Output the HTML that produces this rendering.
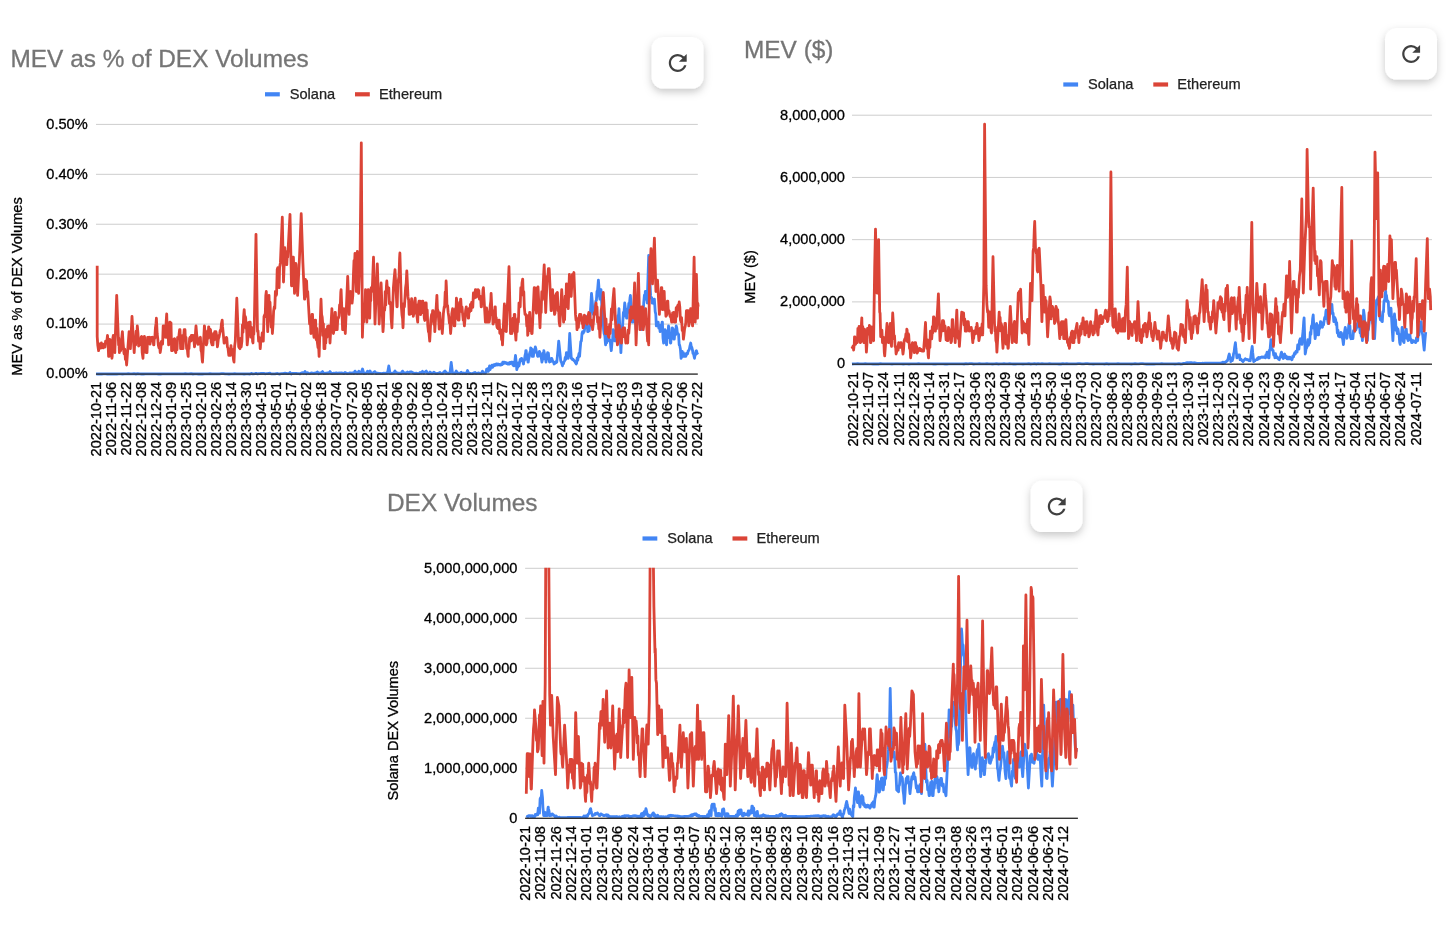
<!DOCTYPE html>
<html lang="en"><head><meta charset="utf-8"><title>MEV charts</title>
<style>
html,body{margin:0;padding:0;background:#fff;}
body{width:1454px;height:944px;overflow:hidden;font-family:"Liberation Sans",sans-serif;}
svg text{font-family:"Liberation Sans",sans-serif;}
svg{display:block;}
</style></head><body>
<svg width="1454" height="944" viewBox="0 0 1454 944">
<defs><filter id="sh" x="-40%" y="-40%" width="180%" height="190%"><feDropShadow dx="0" dy="3.5" stdDeviation="4.5" flood-color="#000" flood-opacity="0.2"/><feDropShadow dx="0" dy="0" stdDeviation="0.6" flood-color="#000" flood-opacity="0.12"/></filter></defs>
<clipPath id="cp1"><rect x="94.0" y="123.8" width="605.8" height="252.6"/></clipPath>
<text x="10.5" y="67.0" font-size="24.40" fill="#757575" stroke="#757575" stroke-width="0.3" >MEV as % of DEX Volumes</text>
<rect x="265.0" y="92.2" width="14.8" height="4.2" fill="#4285F4"/>
<text x="289.7" y="99.2" font-size="14.6" fill="#222" stroke="#222" stroke-width="0.25" >Solana</text>
<rect x="355.0" y="92.2" width="14.8" height="4.2" fill="#DB4437"/>
<text x="379.0" y="99.2" font-size="14.6" fill="#222" stroke="#222" stroke-width="0.25" >Ethereum</text>
<rect x="96.0" y="323.58" width="601.8" height="1" fill="#cecece"/>
<rect x="96.0" y="273.66" width="601.8" height="1" fill="#cecece"/>
<rect x="96.0" y="223.74" width="601.8" height="1" fill="#cecece"/>
<rect x="96.0" y="173.82" width="601.8" height="1" fill="#cecece"/>
<rect x="96.0" y="123.90" width="601.8" height="1" fill="#cecece"/>
<text x="87.7" y="378.3" font-size="14.6" fill="#000" stroke="#000" stroke-width="0.3" text-anchor="end" >0.00%</text>
<text x="87.7" y="328.4" font-size="14.6" fill="#000" stroke="#000" stroke-width="0.3" text-anchor="end" >0.10%</text>
<text x="87.7" y="278.5" font-size="14.6" fill="#000" stroke="#000" stroke-width="0.3" text-anchor="end" >0.20%</text>
<text x="87.7" y="228.5" font-size="14.6" fill="#000" stroke="#000" stroke-width="0.3" text-anchor="end" >0.30%</text>
<text x="87.7" y="178.6" font-size="14.6" fill="#000" stroke="#000" stroke-width="0.3" text-anchor="end" >0.40%</text>
<text x="87.7" y="128.7" font-size="14.6" fill="#000" stroke="#000" stroke-width="0.3" text-anchor="end" >0.50%</text>
<text transform="translate(21.8,286.5) rotate(-90)" font-size="14.6" fill="#000" stroke="#000" stroke-width="0.3" text-anchor="middle" >MEV as % of DEX Volumes</text>
<polyline points="96.0,373.9 97.9,374.0 99.8,373.8 101.7,374.0 103.6,373.8 105.5,373.9 107.4,374.0 109.3,373.8 111.2,374.0 113.1,373.9 115.0,374.0 116.9,374.0 118.8,373.9 120.7,373.8 122.6,374.0 124.5,373.9 126.4,373.8 128.3,373.7 130.2,373.8 132.1,373.9 134.0,373.7 135.9,374.0 137.8,373.7 139.7,373.9 141.6,374.0 143.5,374.0 145.4,373.9 147.3,373.8 149.2,373.9 151.1,373.8 153.0,373.8 154.9,373.9 156.8,373.8 158.7,374.0 160.6,374.0 162.5,373.9 164.4,373.8 166.3,373.9 168.2,373.9 170.1,373.8 172.0,373.9 173.9,373.9 175.8,373.8 177.7,373.8 179.6,373.9 181.5,373.8 183.4,373.8 185.3,373.7 187.2,373.8 189.1,373.9 191.0,373.7 192.9,374.0 194.8,373.9 196.7,373.8 198.6,374.0 200.5,373.9 202.4,374.0 204.3,373.8 206.2,373.8 208.1,373.8 210.0,373.7 211.9,373.9 213.8,373.8 215.7,373.8 217.6,373.8 219.5,373.9 221.4,373.7 223.3,373.7 225.2,373.9 227.1,373.8 229.0,374.0 230.9,373.8 232.8,373.8 234.7,373.7 236.6,373.8 238.5,373.9 240.4,373.9 242.3,373.8 244.2,374.0 246.1,373.9 248.0,373.9 249.9,374.0 250.0,374.0 251.2,373.4 252.5,373.9 253.8,373.8 255.0,373.7 256.2,373.3 257.5,373.9 258.8,373.6 260.0,373.6 261.2,373.3 262.5,373.3 263.8,373.3 265.0,373.8 266.2,373.7 267.5,373.7 268.8,373.3 270.0,373.2 271.2,373.9 272.5,373.9 273.8,373.8 275.0,373.8 276.2,373.6 277.5,373.5 278.8,373.8 280.0,374.0 281.2,373.7 282.5,373.7 283.8,373.5 285.0,373.2 286.2,373.4 287.5,373.6 288.8,373.5 290.0,372.5 291.2,374.0 292.5,373.3 293.8,373.4 295.0,373.3 296.2,373.4 297.5,373.7 298.8,373.7 300.0,373.9 301.2,373.0 302.5,372.7 303.8,373.3 305.0,371.5 306.2,373.7 307.5,372.6 308.8,373.4 310.0,373.6 311.2,372.9 312.5,373.1 313.8,373.4 315.0,373.0 316.2,372.9 317.5,372.0 318.8,373.7 320.0,372.9 321.2,373.1 322.5,371.6 323.8,373.3 325.0,373.4 326.2,373.1 327.5,373.0 328.8,373.0 330.0,371.5 331.2,373.3 332.5,373.5 333.8,373.1 335.0,373.3 336.2,372.9 337.5,373.4 338.8,373.0 340.0,373.2 341.2,373.0 342.5,373.2 343.8,373.6 345.0,372.5 346.2,373.1 347.5,373.6 348.8,373.4 350.0,372.9 351.2,373.4 352.5,372.8 353.8,373.6 355.0,371.1 356.2,372.9 357.5,373.4 358.8,371.3 360.0,373.2 361.2,373.0 362.5,369.0 363.8,373.5 365.0,373.5 366.2,373.2 367.5,371.2 368.8,373.4 370.0,371.0 371.2,373.4 372.5,373.3 373.8,372.2 375.0,371.6 376.2,373.6 377.5,373.1 378.8,373.4 380.0,373.3 381.2,373.6 382.5,373.5 383.8,373.1 385.0,373.3 386.2,373.0 387.5,373.2 388.8,366.0 390.0,373.3 391.2,373.3 392.5,373.1 393.8,372.9 395.0,371.0 396.2,372.7 397.5,372.8 398.8,373.6 400.0,373.1 401.2,373.6 402.5,371.1 403.8,372.9 405.0,372.9 406.2,373.3 407.5,372.0 408.8,373.3 410.0,372.0 411.2,371.8 412.5,372.6 413.8,373.2 415.0,373.6 416.2,373.1 417.5,373.6 418.8,373.7 420.0,372.5 421.2,373.0 422.5,371.3 423.8,373.2 425.0,372.0 426.2,371.1 427.5,373.2 428.8,373.6 430.0,372.0 431.2,373.3 432.5,373.3 433.8,372.2 435.0,373.1 436.2,373.7 437.5,373.5 438.8,373.1 440.0,372.5 441.2,373.7 442.5,373.7 443.8,372.1 445.0,371.0 446.2,373.4 447.5,373.0 448.8,373.3 450.0,372.9 451.2,362.5 452.5,373.2 453.8,373.1 455.0,373.6 456.2,371.0 457.5,373.0 458.8,373.2 460.0,373.5 461.2,372.3 462.5,373.5 463.8,372.9 465.0,373.5 466.2,373.5 467.5,370.5 468.8,373.3 470.0,373.5 471.2,373.7 472.5,373.6 473.8,372.9 475.0,372.5 476.2,373.3 477.5,373.2 478.8,373.0 480.0,373.4 481.2,373.6 482.5,371.2 483.8,373.0 485.0,373.1 485.4,372.6 486.0,372.6 486.6,369.2 487.2,371.1 487.8,368.8 488.4,371.3 489.2,367.8 489.6,365.9 490.2,369.5 490.8,366.6 491.4,367.3 492.0,365.2 492.6,367.3 493.0,365.9 493.8,364.8 494.4,365.7 495.0,364.4 495.6,365.3 496.2,364.0 496.8,364.0 497.4,364.9 498.0,364.0 498.6,364.7 499.2,364.4 499.8,365.0 500.4,364.4 500.6,365.0 501.0,365.0 501.6,363.6 502.2,364.5 502.8,362.2 503.4,363.7 504.0,362.1 504.4,362.1 505.2,363.1 505.8,362.5 506.4,363.5 507.0,363.0 507.6,364.0 508.2,364.0 508.8,362.9 509.4,364.0 510.0,362.4 510.6,363.6 511.2,362.1 511.8,362.9 512.1,362.1 512.4,362.1 513.0,365.3 513.6,363.7 514.0,365.9 514.8,361.4 515.5,355.4 516.0,360.4 516.6,366.9 516.8,369.7 517.2,367.4 517.8,367.2 518.4,363.0 519.0,365.9 519.7,362.1 520.2,359.5 520.8,360.5 521.4,358.3 521.6,358.3 522.0,360.5 522.6,359.8 523.2,363.0 523.5,364.0 523.8,361.0 524.4,360.5 525.0,355.5 525.6,353.1 525.8,350.7 526.2,350.7 526.8,359.1 527.4,354.7 528.0,362.1 528.3,362.1 528.6,359.1 529.2,357.0 529.8,352.4 530.4,353.4 530.7,347.8 531.6,348.9 532.2,356.4 532.8,353.3 533.0,356.4 533.4,356.4 534.0,349.6 534.6,352.5 535.3,346.8 535.8,348.5 536.4,352.1 537.0,352.6 537.6,356.3 537.8,356.4 538.2,355.0 538.8,355.8 539.4,351.4 540.0,352.6 540.6,356.4 541.2,357.0 541.9,362.1 542.4,360.2 543.0,353.2 543.6,355.2 543.8,350.7 544.2,352.3 544.8,358.7 545.4,356.8 545.7,360.2 546.0,362.1 546.6,354.7 547.2,356.1 547.6,352.6 548.4,353.2 549.0,359.5 549.5,362.1 550.2,360.0 550.8,361.5 551.4,358.3 551.8,358.3 552.6,360.9 553.2,361.6 553.8,363.1 554.1,364.0 554.4,362.5 555.0,363.4 555.6,362.0 556.2,362.5 556.8,362.1 557.4,355.8 558.0,349.9 558.7,341.1 559.2,345.7 559.8,352.0 560.4,357.7 560.6,360.2 561.0,361.6 561.6,362.6 562.2,364.9 562.5,365.9 562.8,363.8 563.4,363.8 564.0,361.6 564.6,360.8 564.8,360.2 565.2,357.5 565.8,359.5 566.4,352.6 566.7,352.6 567.0,354.7 567.6,354.4 568.2,358.3 568.8,352.1 569.4,340.0 569.7,333.5 570.6,347.6 571.3,358.3 571.8,358.3 572.4,359.5 573.0,359.2 573.6,360.2 574.2,361.0 574.8,361.2 575.4,362.7 576.0,362.9 576.2,364.0 576.6,363.1 577.2,358.0 577.8,360.2 578.1,358.3 579.0,353.4 579.6,356.5 580.0,350.7 580.8,341.6 581.4,341.0 582.0,333.5 582.6,331.6 583.2,333.2 583.8,331.6 584.2,331.6 585.0,326.8 585.8,316.3 586.2,319.4 586.8,327.6 587.4,326.8 587.7,331.6 588.0,331.6 588.6,326.4 589.2,330.8 589.6,325.9 591.5,293.4 592.2,300.7 592.8,309.1 593.4,314.4 594.0,308.7 594.6,312.0 595.3,306.8 595.8,301.3 596.4,300.3 597.0,291.4 597.2,291.5 597.6,290.2 598.4,280.1 598.8,285.1 599.4,295.9 599.9,299.2 600.6,289.6 601.0,289.6 601.8,306.1 602.6,314.4 603.0,314.6 603.6,329.4 604.1,333.5 604.8,335.4 605.4,343.1 605.6,344.9 606.0,339.2 606.6,342.9 607.2,333.5 607.5,333.5 607.8,338.1 608.4,333.5 609.0,340.8 609.4,339.2 610.2,340.3 610.8,347.2 611.3,350.7 612.0,342.5 612.6,340.1 613.2,329.7 613.8,330.7 614.4,340.4 615.1,341.1 615.6,334.5 616.2,333.0 616.8,322.7 617.0,322.1 617.4,322.4 618.0,315.7 618.6,314.9 619.0,308.7 620.9,352.6 621.6,338.3 622.2,331.9 622.8,322.1 623.4,312.4 624.0,312.6 624.7,303.0 625.2,306.8 625.8,316.4 626.4,312.4 626.6,318.2 627.0,318.2 627.6,309.0 628.2,312.4 628.5,306.8 628.8,303.3 629.4,304.7 630.0,298.0 630.4,295.4 631.2,308.3 631.8,312.3 632.3,322.1 633.0,322.1 633.6,315.1 634.2,314.4 634.8,321.0 635.4,320.5 636.1,329.7 636.6,326.2 637.2,318.7 637.8,321.4 638.0,314.4 638.4,314.4 639.0,320.0 639.6,316.6 639.9,322.1 640.2,325.0 640.8,322.6 641.4,327.7 641.8,329.7 642.6,315.8 643.2,313.1 643.7,303.0 644.4,295.2 645.0,296.9 645.3,291.5 645.6,291.5 646.2,299.2 646.8,296.9 647.2,303.0 648.7,255.3 650.6,295.4 651.0,298.0 651.6,297.4 652.2,303.0 652.5,303.0 652.8,299.4 653.4,303.3 654.0,299.2 654.4,299.2 655.2,311.7 655.8,314.2 656.3,325.9 657.0,325.9 657.6,322.4 658.2,322.1 658.8,328.0 659.4,325.2 660.1,331.6 660.6,331.3 661.2,324.8 661.8,325.5 662.1,322.1 662.4,322.1 663.0,338.2 663.6,343.0 664.2,333.2 664.8,336.7 665.1,329.7 665.4,330.4 666.0,342.0 666.6,344.9 667.2,335.5 667.8,337.7 668.5,325.9 669.0,327.8 669.6,337.9 670.2,337.2 670.4,343.0 670.8,343.0 671.4,333.1 672.0,334.4 672.3,327.8 673.2,329.3 673.8,339.2 674.3,339.2 675.0,330.1 675.6,334.7 676.2,325.9 676.8,327.8 677.4,333.3 678.1,333.5 678.6,334.6 679.2,344.9 679.6,344.9 680.4,349.0 681.1,358.3 681.6,357.0 682.2,351.4 682.8,356.4 683.0,352.6 683.4,352.6 684.0,356.4 684.6,354.6 684.9,356.4 685.8,356.4 686.4,353.4 686.8,354.5 687.6,353.8 688.2,350.8 688.7,350.7 689.4,348.9 690.0,345.8 690.7,343.0 691.2,346.5 691.8,347.4 692.6,350.7 693.0,353.5 693.6,353.9 694.2,357.0 694.5,358.3 694.8,356.3 695.4,354.8 696.0,351.1 696.4,350.7 697.2,353.6 697.9,354.5" fill="none" stroke="#4285F4" stroke-width="2.8" stroke-linejoin="round" stroke-linecap="butt" clip-path="url(#cp1)"/>
<polyline points="97.2,265.8 97.2,336.4 97.8,345.4 98.6,350.7 99.0,343.9 99.6,348.5 100.2,344.0 100.5,346.8 100.8,347.8 101.4,343.0 102.0,347.8 102.6,344.3 103.3,347.8 103.8,346.8 104.4,343.8 105.0,347.2 105.6,341.1 106.2,341.1 106.8,341.6 107.5,335.4 108.0,341.1 108.6,356.4 109.1,356.4 109.8,339.4 110.6,341.1 111.0,352.6 111.6,343.8 111.9,358.3 112.2,356.4 112.8,338.4 113.3,335.4 114.0,348.4 114.8,352.6 116.7,295.4 118.6,344.9 118.8,338.1 119.4,352.6 120.0,342.8 120.5,350.7 121.2,348.6 121.8,337.3 122.4,331.6 123.0,341.8 123.6,348.5 123.9,352.6 124.2,354.0 124.8,349.2 125.4,359.5 126.0,356.7 126.6,365.0 129.1,331.6 129.6,344.3 130.4,348.7 132.0,316.3 134.2,352.6 135.0,338.2 135.6,344.9 136.2,331.1 136.8,339.3 137.3,325.9 138.0,333.4 138.6,346.0 139.2,344.9 139.8,340.1 140.4,344.7 141.1,337.3 141.6,336.4 142.2,352.6 143.0,358.3 143.4,346.3 144.0,348.4 144.4,336.4 144.6,337.3 145.2,352.2 145.8,343.7 146.3,352.6 147.0,352.6 147.6,337.3 148.2,337.3 148.8,339.5 149.4,337.3 150.0,344.2 150.6,341.1 151.2,337.3 151.8,340.2 152.6,337.3 153.0,338.6 153.6,344.9 153.9,344.9 154.2,338.9 154.8,338.3 155.4,328.1 156.0,323.7 156.4,318.2 156.6,322.2 157.2,334.0 157.8,339.0 158.3,344.9 159.0,348.0 159.6,343.6 160.2,352.6 160.8,348.6 161.4,341.3 162.1,341.1 162.6,344.0 163.2,325.9 164.0,325.9 164.4,336.9 165.0,330.9 165.3,337.3 165.6,335.8 166.2,321.2 166.7,313.8 167.4,337.7 168.0,328.1 168.6,344.9 169.2,341.6 169.8,322.1 170.1,322.1 170.4,334.1 171.0,322.9 171.6,350.7 172.4,350.7 172.8,342.7 173.4,349.5 173.9,339.2 174.6,338.7 175.2,350.7 175.8,352.6 176.4,341.1 177.0,349.8 177.6,337.3 178.1,337.3 178.8,337.0 179.6,329.7 180.0,329.7 180.6,348.7 181.2,343.5 181.5,348.7 181.8,347.5 182.4,335.7 183.0,348.7 183.4,341.1 184.2,329.7 185.0,329.7 185.4,340.1 186.0,337.3 186.6,348.7 186.9,348.7 187.2,346.8 187.8,354.3 188.2,356.4 188.4,347.2 189.0,348.7 189.6,338.4 190.1,337.3 190.8,341.2 191.4,335.4 192.0,339.8 192.6,335.4 193.0,335.4 193.2,340.4 193.8,338.7 194.5,346.8 195.0,342.6 195.6,331.1 196.0,325.9 196.8,335.6 197.4,337.9 197.7,343.0 198.0,344.4 198.6,339.2 199.2,343.9 199.7,339.2 200.4,337.2 201.0,350.4 201.6,352.3 202.2,360.0 202.5,362.1 204.4,325.9 204.6,326.8 205.2,342.1 205.8,335.9 206.3,344.9 207.0,343.0 207.6,330.8 208.2,338.3 208.6,326.8 208.8,326.8 209.4,331.7 210.0,329.0 210.5,329.7 211.2,341.8 212.1,344.9 212.4,339.9 213.0,344.9 213.6,333.3 214.0,337.3 214.2,339.9 214.8,331.6 215.4,338.9 215.9,331.6 216.6,335.2 217.4,346.8 217.8,344.2 218.4,338.6 219.0,337.2 219.7,333.5 220.2,330.4 220.8,331.2 221.4,324.0 222.2,320.1 222.6,326.9 223.2,333.2 224.1,343.0 224.4,343.0 225.0,339.0 225.6,341.5 226.4,337.3 226.8,338.1 227.4,346.9 228.0,348.1 228.8,355.4 229.2,355.4 229.8,351.7 230.4,355.4 231.0,345.7 231.6,353.4 232.1,350.7 232.8,349.6 233.4,358.9 234.0,362.1 234.6,346.4 235.3,341.1 236.8,298.2 238.7,346.8 239.4,347.9 240.0,348.7 240.6,338.4 241.2,346.8 241.9,341.1 242.4,325.0 243.0,332.3 243.6,317.2 244.2,309.7 244.8,319.6 245.4,316.7 245.7,318.2 246.0,328.4 246.6,328.3 247.2,344.9 247.8,338.9 248.4,322.6 249.0,333.1 249.5,322.1 250.2,322.1 250.8,337.2 251.4,335.4 252.0,327.7 252.6,341.4 253.0,343.0 253.2,334.4 253.8,334.4 254.3,324.0 256.0,234.3 257.5,331.6 258.0,330.8 258.6,341.1 259.1,337.3 259.8,340.8 260.2,348.7 260.4,347.2 261.0,338.0 261.6,341.1 261.9,337.3 262.2,333.0 262.8,341.1 263.3,341.1 264.0,316.4 264.8,314.4 265.2,316.7 265.8,295.4 266.3,291.5 267.7,331.6 269.0,295.4 269.4,307.8 270.0,302.1 270.5,314.4 271.2,327.2 271.8,318.9 272.4,333.5 273.0,324.7 273.6,311.2 274.3,306.8 274.8,308.4 275.4,291.3 276.2,295.4 276.6,294.0 277.2,269.4 277.8,267.7 278.4,284.4 279.1,287.7 279.6,267.2 280.4,262.9 282.3,217.2 283.5,282.0 284.8,247.7 285.0,260.5 285.6,251.9 286.2,261.0 286.8,264.7 287.4,251.4 287.7,257.2 290.0,214.3 291.5,285.8 292.2,285.6 292.8,257.2 293.4,257.2 294.5,293.4 295.2,286.7 295.8,263.4 296.1,264.8 296.4,281.3 297.0,274.4 297.6,295.4 299.5,257.2 301.2,213.7 302.9,262.9 304.5,299.2 304.8,299.2 305.4,279.3 305.8,281.0 306.0,292.8 306.6,281.0 307.2,296.5 307.7,291.5 309.6,324.0 310.2,317.4 310.9,333.5 311.4,332.6 312.0,314.4 312.5,314.4 313.2,330.1 314.0,337.3 314.4,326.2 315.0,334.3 315.3,320.1 315.6,320.1 316.2,339.7 316.8,328.5 317.2,341.1 318.0,347.6 318.6,345.8 319.1,356.4 321.0,299.2 321.6,314.6 322.2,317.1 322.6,322.1 322.8,335.5 323.4,323.9 324.0,348.7 324.9,348.7 325.2,335.3 325.8,343.0 326.4,329.2 326.8,333.5 327.0,337.1 327.6,326.3 328.2,331.5 328.7,325.9 329.4,327.0 330.0,343.0 331.9,308.7 332.4,327.0 333.0,317.1 333.4,333.5 334.2,328.9 335.0,312.5 335.4,312.5 336.0,329.7 336.6,320.9 336.9,329.7 337.2,329.7 337.8,317.6 338.4,318.2 339.0,315.9 339.6,304.9 340.2,308.9 340.8,292.1 341.1,289.6 342.6,329.7 343.2,329.7 343.9,308.7 344.4,310.9 345.0,329.7 345.3,333.5 347.7,276.3 349.1,314.4 349.8,293.3 350.6,291.5 351.0,303.0 351.6,295.2 352.1,303.0 352.8,295.5 353.5,272.5 354.0,260.6 354.6,262.6 355.0,253.4 356.3,291.5 357.3,251.5 358.6,293.4 360.1,253.4 361.3,142.8 362.4,337.3 363.0,317.7 363.6,322.1 364.0,314.4 364.2,304.0 364.8,311.1 365.5,289.6 366.8,322.1 368.2,289.6 368.4,289.6 369.0,311.2 369.7,318.2 370.2,301.7 370.8,300.6 371.2,287.7 371.4,287.7 372.2,291.5 373.5,257.2 375.0,324.0 377.3,263.9 379.2,324.0 381.1,283.0 383.0,331.6 383.4,326.1 384.0,307.8 384.6,310.5 384.9,306.8 385.2,291.6 385.8,305.0 386.4,286.4 386.8,281.0 387.6,292.4 388.4,291.5 388.8,287.8 389.4,303.6 390.0,303.0 390.6,302.7 391.2,319.2 391.9,327.8 393.4,287.7 394.2,278.1 395.0,269.6 396.9,306.8 397.2,306.8 397.8,283.5 398.4,280.1 399.0,276.8 399.6,257.8 399.9,253.0 401.4,306.8 402.0,315.1 402.6,318.9 403.0,327.8 403.2,323.6 403.8,303.6 404.4,306.8 404.9,299.2 405.6,287.7 406.2,283.1 406.8,270.9 407.4,283.2 408.0,296.4 408.3,299.2 408.6,299.2 409.2,314.4 409.8,314.4 410.4,302.7 411.0,310.1 411.4,303.0 411.6,298.6 412.2,313.9 412.8,308.4 413.3,316.3 414.0,312.4 414.6,301.1 415.2,298.2 415.8,313.1 416.4,304.9 417.0,316.3 417.7,322.1 418.2,306.1 419.0,301.1 419.4,312.6 420.0,301.1 420.6,314.7 420.9,310.6 421.2,303.4 421.8,311.2 422.4,301.1 422.8,301.1 423.0,312.8 423.6,305.3 424.3,318.2 424.8,320.5 425.4,303.0 426.2,303.0 426.6,317.3 427.2,309.9 427.8,325.9 428.4,331.4 429.0,333.0 429.7,341.1 430.2,333.0 430.8,320.1 431.6,314.4 432.0,321.2 432.6,310.6 433.1,310.6 433.8,324.3 434.4,318.5 434.8,331.6 436.9,295.4 437.4,308.9 438.0,310.6 438.8,322.1 439.2,329.1 439.8,313.0 440.3,320.1 441.0,325.1 441.6,321.6 442.3,333.5 442.8,325.2 443.4,313.3 444.2,306.8 444.6,307.5 445.2,292.1 445.8,293.6 446.1,281.0 446.4,286.9 447.0,306.2 447.6,305.5 448.0,310.6 448.2,312.9 448.8,316.6 449.4,323.2 450.0,323.1 450.6,333.5 451.2,325.9 451.8,313.5 452.6,308.7 453.0,321.5 453.6,313.3 454.2,325.9 454.8,325.9 455.4,308.7 456.0,313.8 456.4,298.2 456.6,299.2 457.2,318.4 457.8,305.9 458.3,320.1 459.0,320.1 459.6,302.3 460.2,309.2 460.6,299.2 460.8,299.2 461.4,311.5 462.0,306.8 462.5,312.5 463.2,320.1 463.8,319.6 464.4,325.9 465.0,319.1 465.6,310.6 466.3,306.8 466.8,313.2 467.4,309.3 468.2,318.2 468.6,318.2 469.2,308.5 469.8,311.6 470.1,310.6 470.4,304.5 471.0,310.6 471.6,302.3 472.4,303.0 472.8,307.3 473.4,293.0 473.9,295.4 474.6,298.0 475.4,289.6 475.8,289.6 476.4,297.1 476.8,295.4 477.0,290.8 477.6,293.9 478.1,289.6 478.8,290.5 479.4,299.2 480.0,299.2 480.6,296.4 481.2,306.8 481.5,306.8 481.8,296.5 482.4,303.4 483.0,289.6 483.4,287.7 485.4,322.1 486.0,322.1 486.6,308.0 487.3,312.5 487.8,322.1 488.4,315.0 489.2,322.1 489.6,319.1 490.2,305.8 490.8,301.2 491.1,293.4 491.4,299.4 492.0,314.7 492.6,313.8 493.0,324.0 493.2,324.0 493.8,310.6 494.4,322.0 495.0,306.8 495.3,306.8 495.6,316.9 496.2,317.6 496.8,325.8 497.2,327.8 497.4,324.7 498.0,328.5 498.7,320.1 499.2,320.1 499.8,333.3 500.6,333.5 501.0,329.8 501.6,339.7 502.2,339.2 502.5,344.9 504.4,303.9 504.6,316.2 505.2,305.8 505.8,331.3 506.3,331.6 509.0,266.7 510.5,333.5 511.2,324.1 511.8,333.5 512.4,331.6 513.0,318.2 513.6,330.3 514.3,314.4 514.8,314.4 515.4,333.5 515.9,340.2 516.6,325.9 517.2,331.6 517.8,318.7 518.2,322.1 518.4,322.1 519.0,302.8 519.7,303.0 520.2,306.8 520.8,287.7 521.2,287.7 521.4,295.3 522.0,283.0 522.7,279.1 523.2,295.0 523.8,291.7 524.3,306.8 525.0,314.4 525.8,314.4 526.2,316.0 526.8,326.1 527.4,321.7 527.7,335.4 528.0,333.5 528.6,315.4 529.2,322.6 529.6,312.5 529.8,312.5 530.4,330.6 531.0,319.8 531.6,333.5 532.1,333.5 534.2,287.7 534.6,287.7 535.2,309.4 535.8,298.8 536.1,310.6 536.4,313.2 537.0,287.9 537.6,302.0 538.0,286.8 540.0,327.8 540.6,309.7 541.2,312.5 541.5,301.1 541.8,291.7 542.4,299.7 542.9,291.5 543.6,275.8 544.2,264.8 545.7,312.5 547.2,276.3 547.8,278.8 548.4,268.7 549.2,268.7 551.1,310.6 551.4,310.6 552.0,292.2 552.6,289.6 553.2,306.5 553.8,299.1 554.5,314.4 555.0,313.2 555.6,295.6 556.4,293.4 556.8,302.8 557.4,292.4 558.0,310.6 558.3,308.7 558.6,307.2 559.2,322.1 559.8,325.9 561.7,289.6 563.6,322.1 564.0,313.5 564.6,319.6 565.2,296.1 565.6,301.1 565.8,306.7 566.4,283.9 566.7,283.9 567.0,295.6 567.6,291.4 568.2,308.7 569.4,274.4 570.0,289.7 570.6,283.7 570.9,295.4 571.2,296.5 572.0,280.1 572.4,274.4 573.0,285.8 573.6,273.7 573.9,272.5 575.5,314.4 576.0,320.2 576.6,318.3 577.0,329.7 577.2,328.2 577.8,322.6 578.4,327.3 578.9,318.2 579.6,314.4 580.2,320.1 580.8,314.4 581.4,316.3 582.0,323.5 582.6,321.4 583.1,327.8 583.8,324.0 584.4,315.2 585.0,316.3 585.6,322.7 586.2,317.1 586.9,324.0 587.4,324.0 588.0,316.3 588.8,312.5 589.2,316.5 589.8,313.3 590.4,324.0 590.7,322.1 591.0,319.8 591.6,325.7 592.2,325.0 592.6,329.7 593.4,322.4 594.0,315.1 594.5,312.5 595.2,314.3 595.8,304.4 596.1,303.0 596.4,312.1 597.0,306.8 597.6,322.1 598.0,322.1 598.2,317.4 598.8,329.0 599.4,325.6 599.9,337.3 600.6,325.9 601.2,310.2 601.8,306.8 602.4,304.6 603.0,295.0 603.3,292.5 605.2,325.9 605.4,333.5 606.0,318.8 606.6,333.5 607.1,333.5 607.8,327.3 608.4,336.1 609.0,337.3 609.6,324.5 610.2,333.5 610.9,320.1 611.4,308.8 612.0,319.8 612.5,306.8 613.2,297.5 614.0,288.7 615.5,322.1 616.2,337.0 616.8,332.8 617.4,344.9 618.0,343.0 618.6,324.9 619.3,325.9 619.8,336.1 620.4,332.4 621.2,343.0 621.6,343.0 622.2,329.6 622.8,335.4 623.1,327.8 623.4,327.8 624.0,336.7 624.6,327.8 625.1,333.5 625.8,343.0 626.4,335.8 627.0,340.6 627.7,343.0 628.2,330.1 628.8,333.5 629.6,322.1 630.0,310.0 630.6,320.4 631.2,306.8 631.5,306.8 631.8,317.6 632.4,306.8 633.1,318.2 634.6,283.0 636.1,344.9 638.4,273.4 639.9,329.7 640.2,329.7 640.8,309.0 641.4,321.1 641.8,306.8 642.6,306.8 643.2,329.7 643.7,325.9 644.4,311.2 645.0,320.6 645.6,308.7 647.6,341.1 648.0,336.8 648.7,344.9 649.8,257.2 650.4,261.8 651.0,248.6 652.5,283.9 654.4,238.1 655.9,291.5 656.4,281.9 657.0,287.8 657.5,280.1 659.4,314.4 660.0,300.2 660.6,306.2 661.3,287.7 661.8,287.7 662.4,309.6 662.8,306.8 663.0,299.3 663.6,303.3 664.0,291.5 664.2,291.5 664.8,310.1 665.4,304.3 665.9,316.3 666.6,315.2 667.4,301.1 667.8,301.1 668.4,313.1 669.0,310.7 669.7,314.4 670.2,316.7 670.8,315.8 671.6,322.1 672.0,322.1 672.6,312.8 673.2,316.4 673.5,312.5 673.8,312.5 674.4,322.1 675.0,315.8 675.4,322.1 675.6,322.1 676.2,307.7 676.8,316.4 677.3,306.8 678.0,304.9 678.6,309.3 679.2,302.0 679.8,306.8 680.4,319.9 681.1,322.1 681.6,317.7 682.2,330.5 682.8,327.5 683.4,339.2 684.0,334.7 684.6,328.9 685.3,325.9 685.8,322.7 686.4,310.7 687.2,310.6 687.6,317.1 688.2,310.6 688.8,325.9 689.1,322.1 689.4,314.4 690.0,320.4 690.6,308.7 691.0,308.7 691.8,322.1 692.6,325.9 694.1,257.2 695.2,322.1 696.4,274.4 697.5,318.2 697.8,303.3 698.3,306.8" fill="none" stroke="#DB4437" stroke-width="2.8" stroke-linejoin="round" stroke-linecap="butt" clip-path="url(#cp1)"/>
<rect x="96.0" y="373.40" width="601.8" height="1.4" fill="#333333"/>
<text transform="translate(100.8,381.8) rotate(-90)" font-size="14.6" fill="#000" stroke="#000" stroke-width="0.3" text-anchor="end" >2022-10-21</text>
<text transform="translate(115.9,381.8) rotate(-90)" font-size="14.6" fill="#000" stroke="#000" stroke-width="0.3" text-anchor="end" >2022-11-06</text>
<text transform="translate(130.9,381.8) rotate(-90)" font-size="14.6" fill="#000" stroke="#000" stroke-width="0.3" text-anchor="end" >2022-11-22</text>
<text transform="translate(146.0,381.8) rotate(-90)" font-size="14.6" fill="#000" stroke="#000" stroke-width="0.3" text-anchor="end" >2022-12-08</text>
<text transform="translate(161.0,381.8) rotate(-90)" font-size="14.6" fill="#000" stroke="#000" stroke-width="0.3" text-anchor="end" >2022-12-24</text>
<text transform="translate(176.0,381.8) rotate(-90)" font-size="14.6" fill="#000" stroke="#000" stroke-width="0.3" text-anchor="end" >2023-01-09</text>
<text transform="translate(191.1,381.8) rotate(-90)" font-size="14.6" fill="#000" stroke="#000" stroke-width="0.3" text-anchor="end" >2023-01-25</text>
<text transform="translate(206.1,381.8) rotate(-90)" font-size="14.6" fill="#000" stroke="#000" stroke-width="0.3" text-anchor="end" >2023-02-10</text>
<text transform="translate(221.1,381.8) rotate(-90)" font-size="14.6" fill="#000" stroke="#000" stroke-width="0.3" text-anchor="end" >2023-02-26</text>
<text transform="translate(236.2,381.8) rotate(-90)" font-size="14.6" fill="#000" stroke="#000" stroke-width="0.3" text-anchor="end" >2023-03-14</text>
<text transform="translate(251.2,381.8) rotate(-90)" font-size="14.6" fill="#000" stroke="#000" stroke-width="0.3" text-anchor="end" >2023-03-30</text>
<text transform="translate(266.3,381.8) rotate(-90)" font-size="14.6" fill="#000" stroke="#000" stroke-width="0.3" text-anchor="end" >2023-04-15</text>
<text transform="translate(281.3,381.8) rotate(-90)" font-size="14.6" fill="#000" stroke="#000" stroke-width="0.3" text-anchor="end" >2023-05-01</text>
<text transform="translate(296.3,381.8) rotate(-90)" font-size="14.6" fill="#000" stroke="#000" stroke-width="0.3" text-anchor="end" >2023-05-17</text>
<text transform="translate(311.4,381.8) rotate(-90)" font-size="14.6" fill="#000" stroke="#000" stroke-width="0.3" text-anchor="end" >2023-06-02</text>
<text transform="translate(326.4,381.8) rotate(-90)" font-size="14.6" fill="#000" stroke="#000" stroke-width="0.3" text-anchor="end" >2023-06-18</text>
<text transform="translate(341.4,381.8) rotate(-90)" font-size="14.6" fill="#000" stroke="#000" stroke-width="0.3" text-anchor="end" >2023-07-04</text>
<text transform="translate(356.5,381.8) rotate(-90)" font-size="14.6" fill="#000" stroke="#000" stroke-width="0.3" text-anchor="end" >2023-07-20</text>
<text transform="translate(371.5,381.8) rotate(-90)" font-size="14.6" fill="#000" stroke="#000" stroke-width="0.3" text-anchor="end" >2023-08-05</text>
<text transform="translate(386.5,381.8) rotate(-90)" font-size="14.6" fill="#000" stroke="#000" stroke-width="0.3" text-anchor="end" >2023-08-21</text>
<text transform="translate(401.6,381.8) rotate(-90)" font-size="14.6" fill="#000" stroke="#000" stroke-width="0.3" text-anchor="end" >2023-09-06</text>
<text transform="translate(416.6,381.8) rotate(-90)" font-size="14.6" fill="#000" stroke="#000" stroke-width="0.3" text-anchor="end" >2023-09-22</text>
<text transform="translate(431.7,381.8) rotate(-90)" font-size="14.6" fill="#000" stroke="#000" stroke-width="0.3" text-anchor="end" >2023-10-08</text>
<text transform="translate(446.7,381.8) rotate(-90)" font-size="14.6" fill="#000" stroke="#000" stroke-width="0.3" text-anchor="end" >2023-10-24</text>
<text transform="translate(461.7,381.8) rotate(-90)" font-size="14.6" fill="#000" stroke="#000" stroke-width="0.3" text-anchor="end" >2023-11-09</text>
<text transform="translate(476.8,381.8) rotate(-90)" font-size="14.6" fill="#000" stroke="#000" stroke-width="0.3" text-anchor="end" >2023-11-25</text>
<text transform="translate(491.8,381.8) rotate(-90)" font-size="14.6" fill="#000" stroke="#000" stroke-width="0.3" text-anchor="end" >2023-12-11</text>
<text transform="translate(506.8,381.8) rotate(-90)" font-size="14.6" fill="#000" stroke="#000" stroke-width="0.3" text-anchor="end" >2023-12-27</text>
<text transform="translate(521.9,381.8) rotate(-90)" font-size="14.6" fill="#000" stroke="#000" stroke-width="0.3" text-anchor="end" >2024-01-12</text>
<text transform="translate(536.9,381.8) rotate(-90)" font-size="14.6" fill="#000" stroke="#000" stroke-width="0.3" text-anchor="end" >2024-01-28</text>
<text transform="translate(552.0,381.8) rotate(-90)" font-size="14.6" fill="#000" stroke="#000" stroke-width="0.3" text-anchor="end" >2024-02-13</text>
<text transform="translate(567.0,381.8) rotate(-90)" font-size="14.6" fill="#000" stroke="#000" stroke-width="0.3" text-anchor="end" >2024-02-29</text>
<text transform="translate(582.0,381.8) rotate(-90)" font-size="14.6" fill="#000" stroke="#000" stroke-width="0.3" text-anchor="end" >2024-03-16</text>
<text transform="translate(597.1,381.8) rotate(-90)" font-size="14.6" fill="#000" stroke="#000" stroke-width="0.3" text-anchor="end" >2024-04-01</text>
<text transform="translate(612.1,381.8) rotate(-90)" font-size="14.6" fill="#000" stroke="#000" stroke-width="0.3" text-anchor="end" >2024-04-17</text>
<text transform="translate(627.1,381.8) rotate(-90)" font-size="14.6" fill="#000" stroke="#000" stroke-width="0.3" text-anchor="end" >2024-05-03</text>
<text transform="translate(642.2,381.8) rotate(-90)" font-size="14.6" fill="#000" stroke="#000" stroke-width="0.3" text-anchor="end" >2024-05-19</text>
<text transform="translate(657.2,381.8) rotate(-90)" font-size="14.6" fill="#000" stroke="#000" stroke-width="0.3" text-anchor="end" >2024-06-04</text>
<text transform="translate(672.2,381.8) rotate(-90)" font-size="14.6" fill="#000" stroke="#000" stroke-width="0.3" text-anchor="end" >2024-06-20</text>
<text transform="translate(687.3,381.8) rotate(-90)" font-size="14.6" fill="#000" stroke="#000" stroke-width="0.3" text-anchor="end" >2024-07-06</text>
<text transform="translate(702.3,381.8) rotate(-90)" font-size="14.6" fill="#000" stroke="#000" stroke-width="0.3" text-anchor="end" >2024-07-22</text>
<rect x="651.6" y="37.0" width="52" height="51.5" rx="11.5" fill="#fff" filter="url(#sh)"/>
<g transform="translate(664.3,49.5) scale(1.12)" fill="#404040"><path d="M17.65 6.35A7.958 7.958 0 0 0 12 4c-4.42 0-7.99 3.58-7.99 8s3.57 8 7.99 8c3.73 0 6.84-2.55 7.73-6h-2.08A5.99 5.99 0 0 1 12 18c-3.31 0-6-2.69-6-6s2.690-6 6-6c1.660 0 3.140.69 4.220 1.780L13 11h7V4l-2.350 2.350z"/></g>
<clipPath id="cp2"><rect x="850.0" y="114.6" width="584.0" height="251.9"/></clipPath>
<text x="744.0" y="58.0" font-size="24.40" fill="#757575" stroke="#757575" stroke-width="0.3" >MEV ($)</text>
<rect x="1063.3" y="82.4" width="14.8" height="4.2" fill="#4285F4"/>
<text x="1088.0" y="89.4" font-size="14.6" fill="#222" stroke="#222" stroke-width="0.25" >Solana</text>
<rect x="1153.3" y="82.4" width="14.8" height="4.2" fill="#DB4437"/>
<text x="1177.3" y="89.4" font-size="14.6" fill="#222" stroke="#222" stroke-width="0.25" >Ethereum</text>
<rect x="852.0" y="301.38" width="580.0" height="1" fill="#cecece"/>
<rect x="852.0" y="239.15" width="580.0" height="1" fill="#cecece"/>
<rect x="852.0" y="176.93" width="580.0" height="1" fill="#cecece"/>
<rect x="852.0" y="114.70" width="580.0" height="1" fill="#cecece"/>
<text x="845.0" y="368.4" font-size="14.6" fill="#000" stroke="#000" stroke-width="0.3" text-anchor="end" >0</text>
<text x="845.0" y="306.2" font-size="14.6" fill="#000" stroke="#000" stroke-width="0.3" text-anchor="end" >2,000,000</text>
<text x="845.0" y="244.0" font-size="14.6" fill="#000" stroke="#000" stroke-width="0.3" text-anchor="end" >4,000,000</text>
<text x="845.0" y="181.7" font-size="14.6" fill="#000" stroke="#000" stroke-width="0.3" text-anchor="end" >6,000,000</text>
<text x="845.0" y="119.5" font-size="14.6" fill="#000" stroke="#000" stroke-width="0.3" text-anchor="end" >8,000,000</text>
<text transform="translate(755.3,277.0) rotate(-90)" font-size="14.6" fill="#000" stroke="#000" stroke-width="0.3" text-anchor="middle" >MEV ($)</text>
<polyline points="852.0,364.0 853.9,363.8 855.8,363.8 857.7,363.7 859.6,363.8 861.5,363.8 863.4,363.8 865.3,363.7 867.2,363.8 869.1,363.8 871.0,363.9 872.9,364.0 874.8,364.0 876.7,363.9 878.6,364.0 880.5,363.7 882.4,363.8 884.3,363.8 886.2,363.8 888.1,363.8 890.0,363.9 891.9,364.0 893.8,363.8 895.7,363.8 897.6,363.8 899.5,363.8 901.4,363.8 903.3,364.0 905.2,363.8 907.1,363.9 909.0,364.0 910.9,363.9 912.8,363.8 914.7,363.9 916.6,363.8 918.5,363.7 920.4,363.9 922.3,363.9 924.2,363.9 926.1,363.8 928.0,363.8 929.9,363.8 931.8,363.8 933.7,364.0 935.6,364.0 937.5,363.9 939.4,363.8 941.3,363.9 943.2,363.8 945.1,364.0 947.0,364.0 948.9,363.9 950.8,363.8 952.7,363.8 954.6,363.8 956.5,363.9 958.4,363.8 960.3,363.9 962.2,363.9 964.1,364.0 966.0,363.7 967.9,363.9 969.8,363.7 971.7,363.7 973.6,364.0 975.5,363.9 977.4,363.8 979.3,363.7 981.2,363.9 983.1,363.9 985.0,363.9 986.9,363.7 988.8,363.9 990.7,363.8 992.6,364.0 994.5,363.8 996.4,363.7 998.3,364.0 1000.2,363.8 1002.1,363.8 1004.0,363.7 1005.9,363.8 1007.8,363.9 1009.7,363.7 1011.6,363.9 1013.5,364.0 1015.4,364.0 1017.3,363.9 1019.2,363.9 1021.1,363.9 1023.0,364.0 1024.9,363.9 1026.8,363.9 1028.7,363.7 1030.6,364.0 1032.5,363.8 1034.4,363.7 1036.3,364.0 1038.2,363.7 1040.1,363.8 1042.0,363.7 1043.9,363.9 1045.8,363.9 1047.7,363.9 1049.6,363.7 1051.5,363.8 1053.4,363.9 1055.3,363.9 1057.2,363.9 1059.1,364.0 1061.0,364.0 1062.9,363.7 1064.8,363.9 1066.7,363.7 1068.6,363.9 1070.5,363.9 1072.4,363.8 1074.3,363.9 1076.2,363.9 1078.1,363.7 1080.0,363.7 1081.9,363.8 1083.8,363.8 1085.7,363.7 1087.6,363.7 1089.5,363.8 1091.4,363.8 1093.3,364.0 1095.2,363.8 1097.1,363.9 1099.0,363.8 1100.9,363.8 1102.8,363.9 1104.7,364.0 1106.6,363.7 1108.5,364.0 1110.4,363.9 1112.3,363.9 1114.2,363.9 1116.1,363.8 1118.0,363.7 1119.9,363.9 1121.8,363.8 1123.7,363.9 1125.6,363.8 1127.5,363.9 1129.4,363.9 1131.3,364.0 1133.2,363.9 1135.1,363.7 1137.0,363.9 1138.9,363.9 1140.8,363.7 1142.7,363.7 1144.6,363.9 1146.5,364.0 1148.4,363.9 1150.3,364.0 1152.2,363.9 1154.1,364.0 1156.0,363.9 1157.9,363.9 1159.8,363.8 1161.7,363.7 1163.6,363.8 1165.5,363.9 1167.4,363.9 1169.3,363.8 1171.2,363.9 1173.1,363.9 1175.0,364.0 1176.9,363.9 1178.8,363.7 1180.7,364.0 1182.6,363.8 1183.1,363.5 1183.7,363.5 1184.3,363.4 1184.9,363.3 1185.5,363.2 1186.1,363.3 1186.7,362.8 1187.3,363.4 1187.9,362.6 1188.5,362.9 1189.1,362.8 1189.7,362.7 1190.3,362.6 1190.8,362.6 1191.5,362.7 1192.1,362.8 1192.7,362.8 1193.3,362.9 1193.9,363.3 1194.5,362.7 1195.1,363.5 1195.7,363.0 1196.3,363.3 1196.9,363.4 1197.5,363.4 1198.1,363.5 1198.4,363.5 1198.7,363.5 1199.3,363.5 1199.9,363.5 1200.5,363.4 1201.1,363.5 1201.7,363.3 1202.3,363.4 1202.9,363.2 1203.5,363.3 1204.1,363.3 1204.7,363.2 1205.3,363.2 1206.0,363.2 1206.5,363.2 1207.1,363.2 1207.7,363.2 1208.3,363.2 1208.9,363.2 1209.5,363.2 1210.1,363.2 1210.7,363.2 1211.3,363.2 1211.9,363.2 1212.5,363.2 1213.1,363.2 1213.7,363.2 1214.3,363.2 1214.9,363.2 1215.5,363.2 1216.1,363.2 1216.7,363.2 1217.3,363.2 1217.9,363.2 1218.5,363.2 1219.1,363.2 1219.7,363.2 1220.3,363.0 1220.9,363.2 1221.3,363.2 1221.5,362.9 1222.1,363.2 1222.7,362.2 1223.3,363.2 1223.9,362.3 1224.5,362.7 1225.1,362.6 1225.7,361.6 1226.3,361.6 1226.9,360.7 1227.4,360.7 1228.1,358.8 1228.7,355.9 1229.3,354.0 1229.9,358.0 1230.5,358.4 1230.8,361.6 1231.1,361.1 1231.7,357.8 1232.3,360.7 1233.1,357.8 1233.5,354.0 1234.1,352.2 1234.7,346.9 1235.4,342.6 1235.9,348.5 1236.5,354.0 1236.9,357.8 1237.1,357.8 1237.7,355.6 1238.3,356.9 1238.8,355.0 1239.5,355.0 1240.1,359.7 1240.7,359.7 1241.3,359.5 1241.9,360.7 1242.5,361.0 1243.0,361.6 1243.7,360.7 1244.3,360.0 1244.9,359.2 1245.3,358.8 1245.5,358.9 1246.1,359.3 1246.7,359.3 1247.3,359.8 1248.0,359.7 1248.5,359.8 1249.1,360.7 1249.7,360.0 1250.3,360.7 1250.9,355.9 1251.5,351.1 1252.2,346.4 1252.7,352.4 1253.3,358.0 1253.7,361.6 1253.9,361.5 1254.5,360.6 1255.1,360.7 1255.7,359.8 1256.4,359.7 1256.9,359.7 1257.5,358.3 1258.1,359.2 1258.7,357.4 1259.4,357.8 1259.9,358.3 1260.5,357.5 1261.1,357.4 1261.7,357.0 1262.3,357.4 1262.9,356.9 1263.2,356.9 1263.5,357.4 1264.1,357.0 1264.7,357.7 1265.5,357.8 1265.9,354.8 1266.5,354.9 1267.1,352.1 1267.7,352.2 1268.3,357.6 1269.0,357.8 1269.5,350.2 1270.1,349.4 1270.9,339.7 1271.3,343.0 1271.9,348.0 1272.4,350.2 1273.1,350.4 1273.7,355.2 1274.3,353.5 1274.7,355.9 1274.9,357.8 1275.5,353.7 1276.1,357.5 1276.7,356.7 1277.0,357.8 1277.3,358.1 1277.9,358.1 1278.5,359.1 1279.3,359.7 1279.7,357.1 1280.3,357.6 1280.9,354.0 1281.5,352.1 1282.1,355.7 1282.7,354.9 1283.1,357.8 1283.3,358.5 1283.9,354.8 1284.6,354.0 1285.0,355.9 1285.7,357.6 1286.3,356.1 1286.9,358.8 1287.3,358.8 1287.5,357.5 1288.1,358.8 1288.7,357.2 1289.3,358.8 1289.6,357.8 1289.9,357.2 1290.5,358.8 1291.1,358.8 1291.9,359.7 1292.3,358.5 1292.9,355.8 1293.5,356.8 1294.2,354.0 1294.7,352.8 1295.3,354.0 1295.9,351.5 1296.4,352.1 1297.1,352.1 1297.7,344.8 1298.3,348.3 1298.9,349.1 1299.5,340.8 1300.3,338.7 1300.7,343.8 1301.3,338.7 1301.9,344.4 1302.2,340.7 1302.5,336.1 1303.1,330.5 1303.7,321.7 1304.1,317.8 1305.2,354.0 1305.5,352.7 1306.1,348.6 1306.7,347.9 1307.1,346.4 1307.9,339.7 1308.5,345.3 1309.1,339.6 1309.4,340.7 1309.7,343.0 1310.3,332.3 1310.9,334.5 1311.3,327.3 1311.5,325.9 1312.1,326.3 1312.7,318.1 1313.2,314.9 1313.9,328.4 1314.5,328.0 1315.1,338.7 1315.7,334.9 1316.3,324.3 1316.7,323.5 1316.9,329.1 1317.5,326.0 1318.1,334.9 1318.6,334.9 1319.3,325.3 1319.9,328.5 1320.5,321.6 1321.1,321.9 1321.7,326.6 1322.4,327.3 1322.9,323.8 1323.5,325.0 1324.3,319.7 1324.7,317.4 1325.3,318.8 1325.9,311.4 1326.2,310.1 1326.5,314.7 1327.1,313.9 1327.7,321.0 1328.1,323.5 1328.3,319.3 1328.9,320.2 1329.5,310.5 1330.0,312.1 1330.7,313.4 1331.3,306.7 1331.9,304.4 1332.5,312.9 1333.1,313.1 1333.8,321.6 1334.3,321.6 1334.9,317.7 1335.7,319.7 1336.1,324.6 1336.7,322.5 1337.3,333.0 1337.6,331.1 1337.9,330.0 1338.5,336.0 1339.1,333.8 1339.5,336.8 1340.3,336.8 1340.9,332.4 1341.4,333.0 1342.1,337.2 1342.7,339.3 1343.4,344.5 1343.9,339.2 1344.5,332.2 1345.3,327.3 1345.7,333.4 1346.3,330.4 1346.9,338.3 1347.2,336.8 1347.5,329.9 1348.1,333.1 1348.7,325.8 1349.1,323.5 1349.3,327.8 1349.9,325.9 1350.5,337.5 1351.0,338.7 1351.7,336.5 1352.3,338.7 1352.9,338.7 1353.5,330.7 1354.1,332.2 1354.8,323.5 1355.3,323.5 1355.9,329.8 1356.7,327.3 1357.1,324.6 1357.7,326.9 1358.3,322.4 1358.6,321.6 1358.9,326.8 1359.5,323.2 1360.1,333.0 1360.5,333.0 1360.7,332.0 1361.3,336.3 1361.9,334.4 1362.4,340.7 1363.1,324.5 1363.6,310.1 1364.3,315.5 1364.9,324.6 1365.5,323.5 1366.1,325.7 1366.7,338.7 1367.4,340.7 1367.9,331.5 1368.5,329.1 1369.3,321.6 1369.7,319.3 1370.3,319.6 1370.9,313.3 1371.2,312.1 1371.5,316.8 1372.1,313.2 1372.7,323.5 1373.1,323.5 1373.3,322.2 1373.9,331.8 1374.6,338.7 1376.5,300.6 1376.9,299.8 1377.5,302.8 1378.1,297.4 1378.4,296.8 1378.7,304.2 1379.3,305.4 1379.9,316.8 1380.4,319.7 1381.1,318.3 1381.7,321.1 1382.3,321.6 1382.9,311.6 1383.5,311.8 1383.8,304.4 1384.1,300.6 1384.7,301.3 1385.3,293.5 1385.7,291.1 1385.9,296.0 1386.5,295.3 1387.1,301.3 1387.6,300.6 1388.3,301.8 1388.9,313.7 1389.5,315.9 1390.1,308.9 1390.7,311.5 1391.0,308.2 1392.9,340.7 1393.7,323.9 1394.5,314.0 1394.9,319.1 1395.5,319.7 1396.1,330.4 1396.4,327.3 1396.7,327.3 1397.3,333.5 1397.9,329.0 1398.3,331.1 1398.5,333.0 1399.1,334.9 1399.7,342.6 1400.2,344.5 1400.9,334.4 1401.5,335.8 1402.1,327.3 1402.7,329.2 1403.3,341.4 1404.0,342.6 1404.5,334.0 1405.1,336.7 1405.9,329.2 1406.3,329.2 1406.9,338.3 1407.5,334.9 1407.8,338.7 1408.1,340.5 1408.7,334.9 1409.3,337.0 1409.7,334.9 1409.9,334.9 1410.5,340.2 1411.1,339.4 1411.6,342.6 1412.3,342.6 1412.9,340.7 1413.5,340.7 1414.1,341.7 1414.7,341.5 1415.4,342.6 1415.9,342.5 1416.5,337.8 1417.3,340.7 1417.7,340.7 1418.3,331.9 1418.9,335.2 1419.3,331.1 1419.5,329.7 1420.1,330.9 1420.7,323.7 1421.2,321.6 1421.9,330.9 1422.7,334.9 1423.1,338.9 1423.7,345.5 1424.2,350.2 1424.9,340.7 1425.7,332.1" fill="none" stroke="#4285F4" stroke-width="2.8" stroke-linejoin="round" stroke-linecap="butt" clip-path="url(#cp2)"/>
<polyline points="851.9,346.4 852.5,347.7 853.1,346.0 853.6,350.2 854.3,343.8 854.5,336.8 854.9,336.8 855.5,344.4 856.1,342.6 856.7,338.9 857.3,342.6 857.6,338.7 857.9,328.4 858.5,336.4 859.1,326.4 859.7,329.6 860.3,342.6 860.9,341.7 861.5,322.9 861.8,317.8 862.1,330.1 862.7,326.4 863.3,340.7 863.9,342.6 864.5,329.1 864.8,331.1 865.1,341.7 865.7,334.7 866.4,352.1 866.9,344.5 867.5,328.4 867.9,329.2 868.7,334.0 869.4,325.4 869.9,326.7 870.5,342.6 870.9,342.6 871.7,327.0 872.5,327.3 872.9,338.2 873.6,340.7 874.7,266.3 875.5,229.1 877.0,293.0 878.6,239.6 879.7,312.1 880.1,313.2 880.7,336.6 881.2,334.9 881.9,330.1 882.5,342.6 883.1,342.6 883.7,337.3 884.3,352.4 884.7,355.9 887.0,323.5 887.3,327.3 887.9,341.7 888.5,342.6 889.1,326.9 889.7,337.9 890.0,327.3 890.3,323.5 890.9,342.6 891.5,346.4 892.7,313.0 893.3,323.0 893.9,337.8 894.2,338.7 894.5,335.6 895.1,346.4 895.7,347.7 896.1,354.0 896.9,350.9 897.5,346.6 898.1,350.2 898.4,344.5 898.7,342.6 899.3,346.9 899.9,343.2 900.5,347.4 900.7,342.6 901.1,342.6 901.7,347.5 902.3,347.4 903.0,354.0 903.5,350.1 904.1,341.0 904.9,338.7 905.3,340.2 905.9,333.8 906.5,340.5 906.8,329.2 907.1,330.0 907.7,341.9 908.3,333.6 908.7,334.9 909.5,348.3 910.1,347.7 910.6,357.8 911.3,352.5 911.9,345.4 912.5,342.6 913.1,347.8 913.7,344.6 914.0,348.3 914.3,352.7 914.9,342.6 915.6,342.6 916.1,347.4 916.7,346.4 917.1,353.1 917.9,351.4 918.5,349.7 919.1,349.8 919.4,348.3 919.7,348.3 920.3,350.6 920.9,349.2 921.3,350.2 922.1,351.1 922.7,350.4 923.3,351.0 923.6,351.1 923.9,346.7 924.5,339.2 925.1,328.7 925.5,322.5 926.3,343.5 927.0,348.3 927.5,340.0 928.1,354.9 928.5,357.8 929.3,342.9 929.9,347.4 930.4,331.1 931.1,331.1 931.7,338.8 932.0,334.9 932.3,326.7 932.9,332.7 933.5,316.8 933.9,316.8 934.7,327.4 935.4,331.1 935.9,318.3 936.5,328.8 936.9,319.7 937.7,307.1 938.4,293.9 940.0,340.7 940.7,335.4 941.3,327.7 941.5,329.2 941.9,329.2 942.5,320.6 943.1,330.8 943.4,320.6 943.7,321.6 944.3,329.0 944.9,325.8 945.3,327.3 946.1,339.8 946.7,331.7 947.2,340.7 947.9,340.7 948.5,327.3 949.1,329.2 949.7,336.8 950.3,332.5 951.0,342.6 951.5,341.2 952.2,319.7 952.7,319.7 953.3,335.8 953.7,331.1 954.5,332.8 955.2,342.6 956.8,310.1 957.5,330.5 958.3,338.7 958.7,333.2 959.4,346.4 961.7,312.1 962.3,316.5 962.9,312.6 963.6,313.0 964.1,325.0 964.7,318.9 965.3,331.1 965.5,331.1 965.9,322.8 966.5,331.1 967.1,321.6 967.4,321.6 967.7,327.1 968.3,321.6 968.9,329.5 969.3,331.1 970.1,328.8 970.7,330.2 971.2,327.3 971.9,331.4 972.5,339.5 972.8,342.6 973.1,339.7 973.7,338.1 974.3,330.9 975.1,331.1 975.5,333.9 976.1,327.1 976.7,328.5 977.0,323.5 977.3,326.2 977.9,333.3 978.5,335.1 978.9,340.7 979.7,335.9 980.3,328.1 980.8,329.2 981.5,334.9 982.1,323.8 982.7,334.9 983.8,285.4 984.6,124.2 986.1,285.4 986.9,304.6 987.6,312.1 988.1,310.6 988.7,327.3 989.2,327.3 989.9,312.3 990.3,312.1 991.1,331.1 991.5,333.0 993.0,256.7 994.5,323.5 995.0,331.1 995.3,326.9 995.9,340.6 996.5,342.7 996.9,352.1 999.2,312.1 999.5,320.0 1000.1,317.3 1000.7,330.9 1001.1,323.5 1001.9,326.3 1002.5,341.2 1003.0,348.3 1003.7,334.5 1004.3,338.4 1004.9,323.5 1005.5,323.5 1006.1,344.2 1006.8,340.7 1007.3,335.6 1007.9,348.3 1008.3,348.3 1010.3,306.3 1012.2,342.6 1012.7,332.9 1013.3,339.0 1014.1,323.5 1014.5,321.4 1015.1,341.6 1015.7,326.7 1016.4,342.6 1018.3,293.0 1018.7,297.6 1019.3,291.3 1019.9,300.1 1020.6,289.2 1022.1,333.0 1022.9,321.3 1023.5,331.1 1024.0,325.4 1024.7,323.7 1025.3,332.1 1025.9,331.1 1026.5,324.1 1027.1,333.0 1027.4,321.6 1027.7,319.3 1028.3,334.3 1028.9,344.5 1030.5,283.4 1031.3,285.4 1032.0,300.6 1033.1,251.0 1033.7,247.9 1034.3,229.2 1034.7,221.5 1035.5,248.6 1036.2,252.9 1036.7,253.7 1037.3,270.4 1037.7,272.0 1038.5,249.5 1039.2,248.2 1040.8,281.5 1041.9,321.6 1043.1,285.4 1043.9,309.8 1044.6,312.1 1045.1,297.3 1045.7,311.1 1046.1,300.6 1047.6,336.8 1049.9,296.8 1050.5,300.6 1051.1,318.9 1051.4,312.1 1052.3,306.3 1053.0,308.2 1053.5,315.9 1054.1,314.4 1054.5,323.5 1055.3,321.6 1056.0,306.3 1056.5,308.2 1057.1,316.2 1057.7,309.6 1057.9,315.9 1058.3,322.0 1058.9,325.4 1059.5,334.9 1059.8,338.7 1060.1,330.9 1060.7,334.9 1061.3,322.6 1061.7,321.6 1062.5,333.8 1063.1,321.6 1063.7,338.7 1064.0,334.9 1064.3,324.1 1064.9,338.8 1065.5,321.6 1065.9,319.7 1066.7,334.6 1067.5,342.6 1067.9,339.3 1068.5,345.6 1069.1,344.4 1069.4,348.3 1069.7,346.0 1070.3,337.4 1070.9,340.3 1071.3,333.0 1072.1,331.1 1072.7,342.6 1073.3,337.6 1073.6,342.6 1073.9,342.6 1074.5,331.4 1075.1,337.8 1075.5,331.1 1076.3,327.2 1077.0,323.5 1077.5,332.5 1078.1,330.5 1078.7,340.1 1078.9,342.6 1079.3,336.3 1079.9,335.9 1080.5,326.1 1080.8,329.2 1081.1,334.1 1081.7,323.5 1082.3,328.6 1082.9,319.0 1083.1,317.8 1083.5,326.7 1084.1,321.6 1084.7,334.7 1085.0,334.9 1085.3,329.2 1085.9,332.9 1086.5,321.6 1086.9,321.6 1087.7,332.3 1088.3,327.4 1088.8,336.8 1089.5,334.9 1090.1,324.6 1090.7,321.6 1091.3,327.3 1091.9,325.6 1092.6,333.0 1093.1,334.9 1093.7,327.0 1094.3,333.0 1094.5,327.3 1094.9,321.6 1095.5,320.9 1096.1,310.1 1096.7,315.9 1097.3,331.0 1098.0,334.9 1098.5,326.5 1099.1,327.3 1099.7,315.9 1099.9,315.9 1100.3,320.5 1100.9,315.4 1101.5,323.5 1101.8,323.5 1102.1,320.2 1102.7,322.7 1103.3,316.8 1103.7,317.8 1104.5,317.3 1105.1,312.3 1105.6,310.1 1106.3,318.7 1106.9,312.4 1107.5,321.6 1108.1,319.9 1108.7,309.8 1109.4,315.9 1110.2,247.2 1110.9,171.9 1112.1,304.4 1112.9,325.7 1113.6,327.3 1114.1,309.9 1114.4,309.2 1114.7,321.6 1115.3,309.0 1115.9,323.5 1116.5,331.1 1117.1,322.6 1117.8,333.0 1118.3,331.1 1119.0,314.0 1119.5,318.5 1120.1,326.6 1120.9,331.1 1121.3,321.8 1121.9,331.1 1122.5,319.0 1122.8,323.5 1123.1,331.1 1123.7,318.1 1124.3,331.1 1124.7,331.1 1125.5,310.3 1126.2,304.4 1127.3,267.2 1128.5,338.7 1129.1,335.4 1129.7,321.6 1130.3,328.4 1130.8,325.4 1131.5,324.1 1132.1,335.5 1132.7,325.4 1133.1,327.3 1133.9,326.6 1134.5,321.6 1135.0,321.6 1135.7,333.5 1136.3,331.1 1136.5,340.7 1138.0,301.6 1139.6,334.9 1139.9,340.7 1140.5,329.7 1141.1,341.0 1141.5,342.6 1142.3,329.4 1142.9,336.1 1143.4,325.4 1144.1,324.6 1144.7,327.0 1145.0,323.5 1145.3,323.5 1145.9,332.2 1146.5,331.8 1146.9,336.8 1147.7,331.1 1148.3,322.7 1148.9,319.6 1149.2,313.0 1149.5,315.6 1150.1,328.7 1150.7,323.2 1151.1,331.1 1151.9,336.8 1152.5,331.7 1153.0,340.7 1153.7,334.9 1154.3,328.7 1154.9,322.5 1155.5,327.8 1156.1,330.0 1156.8,334.9 1157.3,339.2 1157.9,331.1 1158.5,333.5 1158.7,331.1 1159.1,333.3 1159.7,339.5 1160.3,343.1 1160.6,348.3 1160.9,346.3 1161.5,339.2 1162.1,340.2 1162.5,332.1 1163.3,332.1 1163.9,337.3 1164.5,336.8 1165.1,335.4 1165.7,339.3 1166.4,340.7 1166.9,332.1 1167.5,327.6 1168.3,315.9 1168.7,320.3 1169.3,328.0 1169.9,332.1 1170.2,336.8 1170.5,340.7 1171.1,338.0 1171.7,343.7 1172.3,342.9 1172.7,348.3 1173.5,345.1 1174.1,336.3 1174.6,332.1 1175.3,337.3 1175.9,333.1 1176.5,342.6 1177.1,348.3 1177.7,343.7 1178.4,350.2 1178.9,345.1 1179.5,336.1 1180.1,336.0 1180.9,324.4 1181.3,326.3 1181.9,332.5 1182.5,324.8 1183.1,334.9 1183.7,336.7 1184.3,330.1 1184.9,340.7 1185.4,342.6 1187.0,300.6 1187.3,302.4 1187.9,310.6 1188.5,309.4 1189.2,314.0 1189.7,329.1 1190.3,317.3 1190.9,331.5 1191.5,338.7 1192.1,331.0 1192.7,333.0 1193.4,323.5 1193.9,316.7 1194.5,322.0 1195.1,315.9 1195.3,315.9 1195.7,323.6 1196.3,317.9 1196.9,327.3 1197.6,333.0 1198.1,322.9 1198.7,323.6 1199.3,313.7 1199.9,312.1 1202.2,279.6 1204.1,321.6 1206.0,285.4 1206.5,298.5 1207.1,289.8 1207.7,312.2 1207.9,312.1 1208.3,312.1 1208.9,321.6 1209.5,319.5 1210.1,325.8 1210.6,329.2 1211.3,317.2 1211.9,321.9 1212.5,311.7 1213.1,312.4 1213.7,300.6 1215.9,333.0 1216.7,322.2 1217.3,316.5 1217.9,302.6 1218.2,304.4 1218.5,307.9 1219.1,301.6 1219.7,305.3 1220.3,297.6 1220.5,296.8 1220.9,309.5 1221.5,298.3 1222.1,312.1 1222.4,312.1 1222.7,304.1 1223.3,316.2 1224.0,319.7 1224.5,304.6 1225.1,311.1 1225.9,289.2 1226.3,288.1 1226.9,294.0 1227.4,285.4 1229.3,331.1 1231.2,298.7 1231.7,297.7 1232.3,313.7 1232.7,312.1 1233.5,298.7 1234.2,297.7 1234.7,311.0 1235.3,306.7 1235.9,324.4 1236.2,329.2 1236.5,318.4 1237.1,319.8 1237.7,304.4 1238.3,297.7 1238.9,296.5 1239.2,287.3 1240.7,323.5 1241.3,318.8 1241.9,332.0 1242.5,326.0 1243.0,340.7 1243.7,332.6 1244.3,314.9 1244.9,323.9 1245.3,312.1 1246.1,295.2 1246.7,303.7 1247.2,287.3 1249.1,338.7 1250.6,285.4 1251.8,222.4 1252.9,304.4 1254.5,342.6 1256.8,283.4 1257.5,294.1 1258.1,307.8 1258.7,312.1 1259.3,298.7 1259.9,307.6 1260.2,298.7 1260.5,296.6 1261.1,312.8 1261.7,313.5 1262.1,329.2 1264.8,284.4 1265.3,295.2 1265.9,300.4 1266.7,312.1 1267.1,323.3 1267.7,323.6 1268.3,332.8 1268.6,336.8 1268.9,325.2 1269.5,336.8 1270.1,314.0 1270.5,314.0 1271.3,323.2 1271.6,315.9 1271.9,314.8 1272.5,335.3 1273.1,330.1 1273.5,346.4 1275.8,298.7 1276.1,305.7 1276.7,306.4 1277.3,322.5 1277.9,312.7 1278.1,319.7 1278.5,334.0 1279.1,326.7 1279.7,335.2 1280.4,342.6 1280.9,334.5 1281.5,328.3 1282.1,317.0 1282.7,312.1 1283.3,315.9 1283.9,304.2 1284.5,315.9 1285.0,315.9 1286.5,275.8 1286.9,275.8 1287.5,297.3 1288.1,293.0 1288.7,275.8 1289.3,275.8 1289.6,261.5 1291.5,333.0 1293.4,281.5 1294.1,281.5 1294.7,294.2 1295.3,289.2 1295.9,289.4 1296.5,312.1 1297.2,312.1 1297.7,296.8 1298.3,297.5 1298.7,291.1 1299.5,275.7 1300.3,270.1 1301.8,199.0 1303.3,293.0 1304.8,247.2 1306.4,214.8 1307.1,149.4 1308.3,209.1 1309.1,227.2 1309.8,227.2 1310.6,289.2 1311.7,237.7 1313.2,188.1 1314.7,260.6 1315.1,251.2 1315.7,263.6 1316.3,256.7 1316.9,256.7 1317.5,275.9 1317.8,270.1 1318.1,269.5 1318.7,284.1 1319.3,294.9 1320.5,260.6 1321.1,262.1 1321.7,280.1 1322.4,281.5 1322.9,283.3 1323.5,299.2 1323.9,306.3 1324.7,286.0 1325.4,281.5 1325.9,290.2 1326.5,281.5 1327.0,281.5 1328.9,323.5 1329.5,315.0 1330.1,301.4 1330.8,296.8 1332.3,260.6 1333.1,268.1 1333.7,265.3 1334.2,268.2 1334.9,286.7 1335.5,277.7 1335.7,289.2 1336.1,289.2 1336.7,267.9 1337.3,265.3 1337.9,279.5 1338.5,274.9 1339.2,291.1 1340.3,247.2 1341.8,187.5 1343.0,298.7 1343.3,298.7 1343.9,291.1 1344.5,293.0 1345.1,307.7 1345.7,301.8 1346.0,312.1 1346.3,312.1 1346.9,294.5 1347.6,292.0 1348.1,306.9 1348.7,303.5 1349.5,323.5 1349.9,323.2 1350.5,293.8 1351.0,293.0 1351.7,240.9 1352.9,304.4 1353.5,319.0 1354.1,310.8 1354.8,331.1 1356.7,298.7 1357.1,307.2 1357.7,304.4 1358.3,321.0 1358.6,321.6 1358.9,317.2 1359.5,326.4 1360.1,315.9 1360.5,315.9 1361.3,324.1 1361.9,326.6 1362.4,336.8 1363.1,336.8 1363.7,321.6 1364.3,321.6 1364.9,334.0 1365.5,322.6 1366.1,337.5 1366.6,342.6 1367.3,331.1 1367.9,330.1 1368.5,323.5 1369.1,312.7 1369.7,319.9 1370.1,308.2 1370.9,283.9 1371.6,277.7 1373.1,338.7 1374.2,247.2 1375.0,152.1 1376.5,218.6 1377.7,172.8 1379.2,315.9 1380.4,270.1 1381.1,288.0 1381.9,296.8 1382.3,284.8 1382.9,290.6 1383.5,267.2 1383.8,266.3 1384.1,279.4 1384.7,266.4 1385.3,289.2 1385.7,289.2 1386.5,272.3 1387.1,279.3 1387.6,264.4 1388.3,266.2 1388.7,281.5 1389.9,235.8 1390.7,246.3 1391.4,239.6 1392.9,298.7 1394.8,262.5 1395.5,262.5 1396.1,277.5 1396.4,270.1 1398.3,304.4 1399.1,308.8 1399.4,319.7 1399.7,315.8 1400.3,298.7 1400.9,304.9 1401.3,289.2 1402.1,293.9 1402.7,303.9 1403.2,304.4 1403.9,304.3 1404.5,322.9 1404.8,327.3 1406.3,293.9 1406.9,296.8 1407.5,312.9 1408.2,312.1 1408.7,300.0 1409.3,306.7 1409.7,296.8 1411.2,333.0 1411.7,320.8 1412.3,317.7 1412.9,301.1 1413.2,304.4 1413.5,311.5 1414.1,296.8 1414.7,296.8 1416.2,258.7 1417.7,336.8 1419.6,304.4 1420.1,314.6 1420.7,304.4 1421.2,312.1 1421.9,319.0 1422.5,300.6 1422.7,304.4 1423.1,312.1 1423.7,313.0 1424.2,331.1 1425.7,281.5 1427.3,238.6 1428.4,298.7 1429.1,297.6 1429.6,289.2 1430.3,296.6 1430.7,310.1" fill="none" stroke="#DB4437" stroke-width="2.8" stroke-linejoin="round" stroke-linecap="butt" clip-path="url(#cp2)"/>
<rect x="852.0" y="363.50" width="580.0" height="1.4" fill="#333333"/>
<text transform="translate(858.0,371.9) rotate(-90)" font-size="14.6" fill="#000" stroke="#000" stroke-width="0.3" text-anchor="end" >2022-10-21</text>
<text transform="translate(873.2,371.9) rotate(-90)" font-size="14.6" fill="#000" stroke="#000" stroke-width="0.3" text-anchor="end" >2022-11-07</text>
<text transform="translate(888.4,371.9) rotate(-90)" font-size="14.6" fill="#000" stroke="#000" stroke-width="0.3" text-anchor="end" >2022-11-24</text>
<text transform="translate(903.6,371.9) rotate(-90)" font-size="14.6" fill="#000" stroke="#000" stroke-width="0.3" text-anchor="end" >2022-12-11</text>
<text transform="translate(918.8,371.9) rotate(-90)" font-size="14.6" fill="#000" stroke="#000" stroke-width="0.3" text-anchor="end" >2022-12-28</text>
<text transform="translate(934.0,371.9) rotate(-90)" font-size="14.6" fill="#000" stroke="#000" stroke-width="0.3" text-anchor="end" >2023-01-14</text>
<text transform="translate(949.2,371.9) rotate(-90)" font-size="14.6" fill="#000" stroke="#000" stroke-width="0.3" text-anchor="end" >2023-01-31</text>
<text transform="translate(964.4,371.9) rotate(-90)" font-size="14.6" fill="#000" stroke="#000" stroke-width="0.3" text-anchor="end" >2023-02-17</text>
<text transform="translate(979.6,371.9) rotate(-90)" font-size="14.6" fill="#000" stroke="#000" stroke-width="0.3" text-anchor="end" >2023-03-06</text>
<text transform="translate(994.8,371.9) rotate(-90)" font-size="14.6" fill="#000" stroke="#000" stroke-width="0.3" text-anchor="end" >2023-03-23</text>
<text transform="translate(1010.0,371.9) rotate(-90)" font-size="14.6" fill="#000" stroke="#000" stroke-width="0.3" text-anchor="end" >2023-04-09</text>
<text transform="translate(1025.3,371.9) rotate(-90)" font-size="14.6" fill="#000" stroke="#000" stroke-width="0.3" text-anchor="end" >2023-04-26</text>
<text transform="translate(1040.5,371.9) rotate(-90)" font-size="14.6" fill="#000" stroke="#000" stroke-width="0.3" text-anchor="end" >2023-05-13</text>
<text transform="translate(1055.7,371.9) rotate(-90)" font-size="14.6" fill="#000" stroke="#000" stroke-width="0.3" text-anchor="end" >2023-05-30</text>
<text transform="translate(1070.9,371.9) rotate(-90)" font-size="14.6" fill="#000" stroke="#000" stroke-width="0.3" text-anchor="end" >2023-06-16</text>
<text transform="translate(1086.1,371.9) rotate(-90)" font-size="14.6" fill="#000" stroke="#000" stroke-width="0.3" text-anchor="end" >2023-07-03</text>
<text transform="translate(1101.3,371.9) rotate(-90)" font-size="14.6" fill="#000" stroke="#000" stroke-width="0.3" text-anchor="end" >2023-07-20</text>
<text transform="translate(1116.5,371.9) rotate(-90)" font-size="14.6" fill="#000" stroke="#000" stroke-width="0.3" text-anchor="end" >2023-08-06</text>
<text transform="translate(1131.7,371.9) rotate(-90)" font-size="14.6" fill="#000" stroke="#000" stroke-width="0.3" text-anchor="end" >2023-08-23</text>
<text transform="translate(1146.9,371.9) rotate(-90)" font-size="14.6" fill="#000" stroke="#000" stroke-width="0.3" text-anchor="end" >2023-09-09</text>
<text transform="translate(1162.1,371.9) rotate(-90)" font-size="14.6" fill="#000" stroke="#000" stroke-width="0.3" text-anchor="end" >2023-09-26</text>
<text transform="translate(1177.3,371.9) rotate(-90)" font-size="14.6" fill="#000" stroke="#000" stroke-width="0.3" text-anchor="end" >2023-10-13</text>
<text transform="translate(1192.5,371.9) rotate(-90)" font-size="14.6" fill="#000" stroke="#000" stroke-width="0.3" text-anchor="end" >2023-10-30</text>
<text transform="translate(1207.7,371.9) rotate(-90)" font-size="14.6" fill="#000" stroke="#000" stroke-width="0.3" text-anchor="end" >2023-11-16</text>
<text transform="translate(1222.9,371.9) rotate(-90)" font-size="14.6" fill="#000" stroke="#000" stroke-width="0.3" text-anchor="end" >2023-12-03</text>
<text transform="translate(1238.1,371.9) rotate(-90)" font-size="14.6" fill="#000" stroke="#000" stroke-width="0.3" text-anchor="end" >2023-12-20</text>
<text transform="translate(1253.3,371.9) rotate(-90)" font-size="14.6" fill="#000" stroke="#000" stroke-width="0.3" text-anchor="end" >2024-01-06</text>
<text transform="translate(1268.5,371.9) rotate(-90)" font-size="14.6" fill="#000" stroke="#000" stroke-width="0.3" text-anchor="end" >2024-01-23</text>
<text transform="translate(1283.7,371.9) rotate(-90)" font-size="14.6" fill="#000" stroke="#000" stroke-width="0.3" text-anchor="end" >2024-02-09</text>
<text transform="translate(1298.9,371.9) rotate(-90)" font-size="14.6" fill="#000" stroke="#000" stroke-width="0.3" text-anchor="end" >2024-02-26</text>
<text transform="translate(1314.1,371.9) rotate(-90)" font-size="14.6" fill="#000" stroke="#000" stroke-width="0.3" text-anchor="end" >2024-03-14</text>
<text transform="translate(1329.3,371.9) rotate(-90)" font-size="14.6" fill="#000" stroke="#000" stroke-width="0.3" text-anchor="end" >2024-03-31</text>
<text transform="translate(1344.6,371.9) rotate(-90)" font-size="14.6" fill="#000" stroke="#000" stroke-width="0.3" text-anchor="end" >2024-04-17</text>
<text transform="translate(1359.8,371.9) rotate(-90)" font-size="14.6" fill="#000" stroke="#000" stroke-width="0.3" text-anchor="end" >2024-05-04</text>
<text transform="translate(1375.0,371.9) rotate(-90)" font-size="14.6" fill="#000" stroke="#000" stroke-width="0.3" text-anchor="end" >2024-05-21</text>
<text transform="translate(1390.2,371.9) rotate(-90)" font-size="14.6" fill="#000" stroke="#000" stroke-width="0.3" text-anchor="end" >2024-06-07</text>
<text transform="translate(1405.4,371.9) rotate(-90)" font-size="14.6" fill="#000" stroke="#000" stroke-width="0.3" text-anchor="end" >2024-06-24</text>
<text transform="translate(1420.6,371.9) rotate(-90)" font-size="14.6" fill="#000" stroke="#000" stroke-width="0.3" text-anchor="end" >2024-07-11</text>
<rect x="1385.0" y="28.0" width="52" height="51.5" rx="11.5" fill="#fff" filter="url(#sh)"/>
<g transform="translate(1397.7,40.5) scale(1.12)" fill="#404040"><path d="M17.65 6.35A7.958 7.958 0 0 0 12 4c-4.42 0-7.99 3.58-7.99 8s3.57 8 7.99 8c3.73 0 6.84-2.55 7.73-6h-2.08A5.99 5.99 0 0 1 12 18c-3.31 0-6-2.69-6-6s2.690-6 6-6c1.660 0 3.140.69 4.220 1.780L13 11h7V4l-2.350 2.350z"/></g>
<clipPath id="cp3"><rect x="523.1" y="567.7" width="556.8" height="252.9"/></clipPath>
<text x="387.0" y="511.3" font-size="24.40" fill="#757575" stroke="#757575" stroke-width="0.3" >DEX Volumes</text>
<rect x="642.5" y="536.4" width="14.8" height="4.2" fill="#4285F4"/>
<text x="667.2" y="543.4" font-size="14.6" fill="#222" stroke="#222" stroke-width="0.25" >Solana</text>
<rect x="732.5" y="536.4" width="14.8" height="4.2" fill="#DB4437"/>
<text x="756.5" y="543.4" font-size="14.6" fill="#222" stroke="#222" stroke-width="0.25" >Ethereum</text>
<rect x="525.1" y="767.72" width="552.8" height="1" fill="#cecece"/>
<rect x="525.1" y="717.74" width="552.8" height="1" fill="#cecece"/>
<rect x="525.1" y="667.76" width="552.8" height="1" fill="#cecece"/>
<rect x="525.1" y="617.78" width="552.8" height="1" fill="#cecece"/>
<rect x="525.1" y="567.80" width="552.8" height="1" fill="#cecece"/>
<text x="517.4" y="822.5" font-size="14.6" fill="#000" stroke="#000" stroke-width="0.3" text-anchor="end" >0</text>
<text x="517.4" y="772.5" font-size="14.6" fill="#000" stroke="#000" stroke-width="0.3" text-anchor="end" >1,000,000,000</text>
<text x="517.4" y="722.5" font-size="14.6" fill="#000" stroke="#000" stroke-width="0.3" text-anchor="end" >2,000,000,000</text>
<text x="517.4" y="672.6" font-size="14.6" fill="#000" stroke="#000" stroke-width="0.3" text-anchor="end" >3,000,000,000</text>
<text x="517.4" y="622.6" font-size="14.6" fill="#000" stroke="#000" stroke-width="0.3" text-anchor="end" >4,000,000,000</text>
<text x="517.4" y="572.6" font-size="14.6" fill="#000" stroke="#000" stroke-width="0.3" text-anchor="end" >5,000,000,000</text>
<text transform="translate(398.4,730.7) rotate(-90)" font-size="14.6" fill="#000" stroke="#000" stroke-width="0.3" text-anchor="middle" >Solana DEX Volumes</text>
<polyline points="526.3,817.3 526.9,817.3 527.5,816.1 528.1,816.8 528.7,815.8 529.3,816.1 529.5,815.7 529.9,815.7 530.5,816.4 531.1,815.7 531.7,816.5 532.3,815.7 532.9,816.7 533.3,816.7 534.1,816.0 534.7,816.7 535.3,814.5 535.9,815.4 536.5,814.2 537.2,814.8 537.7,814.8 538.3,808.1 539.1,810.9 539.5,813.1 540.1,799.0 540.6,797.6 541.3,798.0 541.7,790.3 542.5,797.6 542.9,807.1 543.7,815.7 544.4,815.7 544.9,812.5 545.5,815.7 546.1,812.9 546.7,815.7 547.3,815.6 547.9,808.8 548.2,807.1 548.5,808.8 549.1,811.4 549.7,815.7 550.3,815.7 550.9,814.5 551.5,815.3 552.1,813.8 552.4,813.8 552.7,814.5 553.3,814.8 553.9,815.6 554.5,815.7 555.1,816.7 555.7,817.6 556.3,816.0 556.9,817.6 557.5,817.1 558.1,817.6 558.7,817.6 559.3,817.2 559.9,817.6 560.5,817.6 561.1,817.6 561.7,817.6 562.3,817.6 562.9,817.6 563.5,817.6 564.1,817.6 564.7,817.6 565.3,817.6 565.8,817.6 566.5,817.6 567.1,817.6 567.7,817.5 568.3,817.5 568.9,817.6 569.5,817.3 570.1,817.5 570.7,817.3 571.3,817.4 571.9,817.3 572.5,817.3 573.1,817.3 573.4,817.3 573.7,817.3 574.3,817.3 574.9,817.3 575.5,817.3 576.1,817.4 576.7,817.4 577.3,817.4 577.9,817.4 578.5,817.5 579.1,817.5 579.7,817.5 580.3,817.5 580.9,817.6 581.5,817.6 582.1,817.6 582.7,817.3 582.9,817.6 583.3,817.6 583.9,816.0 584.5,817.6 585.1,816.0 585.7,816.9 586.3,815.8 586.7,816.7 587.5,816.3 588.1,814.3 588.7,813.8 589.3,813.1 589.9,810.1 590.6,808.6 591.1,810.9 591.7,813.2 592.5,815.7 592.9,815.5 593.5,815.0 594.1,815.0 594.8,814.8 595.3,813.5 595.9,814.2 596.5,813.5 597.1,813.6 597.4,812.9 597.7,813.3 598.3,814.4 598.9,814.8 599.3,815.7 600.1,815.7 600.7,813.8 601.2,813.8 601.9,814.7 602.5,814.7 603.1,815.4 603.9,815.7 604.3,815.4 604.9,815.5 605.5,814.8 605.8,814.8 606.1,815.3 606.7,814.8 607.3,816.1 607.9,815.0 608.5,816.7 609.1,815.9 609.6,816.7 610.3,816.7 610.9,816.7 611.5,816.7 612.1,816.7 612.7,816.7 613.3,816.7 613.9,816.7 614.5,816.7 615.1,816.7 615.4,816.7 615.7,816.7 616.3,816.9 616.9,816.7 617.5,817.0 618.1,816.8 618.7,817.2 619.3,816.8 619.9,817.3 620.5,817.2 621.1,817.3 621.7,817.1 622.3,816.3 622.9,817.2 623.5,816.2 624.1,817.0 624.7,815.7 625.3,816.6 625.9,815.7 626.5,816.0 626.8,815.7 627.1,815.7 627.7,816.1 628.3,815.8 628.9,816.5 629.5,816.2 630.1,816.7 630.6,816.7 631.3,816.3 631.9,816.5 632.5,815.9 633.1,816.3 633.7,815.7 634.4,815.7 634.9,816.1 635.5,815.7 636.1,816.3 636.7,815.9 637.3,816.6 637.9,816.3 638.2,816.7 638.5,816.7 639.1,816.2 639.7,816.7 640.3,816.1 640.9,816.7 641.5,813.6 642.1,816.7 642.7,813.1 643.3,815.8 644.0,815.7 644.5,811.4 645.1,814.3 645.9,808.6 646.3,810.0 646.9,812.9 647.5,814.8 647.8,815.7 648.1,815.8 648.7,815.0 649.3,816.3 649.9,815.8 650.4,816.7 651.1,816.1 651.7,814.9 652.3,814.4 653.1,812.9 653.5,812.9 654.1,816.1 654.7,814.5 655.4,816.7 655.9,816.7 656.5,816.1 657.1,816.7 657.7,815.3 658.3,816.7 658.9,816.7 659.5,816.7 660.1,816.7 660.7,816.7 661.1,816.7 661.9,816.7 662.5,817.1 663.1,816.7 663.7,817.2 664.3,816.8 664.9,817.2 665.5,816.8 666.1,817.3 666.8,817.3 667.3,816.6 667.9,817.2 668.5,815.7 669.1,816.4 669.7,815.3 670.0,815.3 670.3,815.7 670.9,815.3 671.5,815.8 672.1,815.4 672.7,815.7 673.3,815.6 673.8,815.7 674.5,815.8 675.1,815.9 675.7,816.0 676.3,816.0 676.9,816.3 677.5,815.9 678.1,816.6 678.7,816.1 679.3,816.4 679.9,816.5 680.5,816.6 681.1,816.6 681.4,816.7 681.7,816.7 682.3,816.6 682.9,816.6 683.5,816.6 684.1,816.5 684.7,816.5 685.3,816.4 685.9,816.4 686.5,816.4 687.1,816.3 687.7,816.3 688.3,816.3 688.9,816.2 689.5,816.2 690.1,816.2 690.7,815.2 691.0,816.1 691.3,816.1 691.9,814.8 692.5,815.8 693.1,814.5 693.7,814.9 694.3,813.8 694.8,813.8 695.5,814.7 696.1,813.8 696.7,815.5 697.3,814.8 697.9,816.2 698.6,816.3 699.1,815.6 699.7,816.3 700.3,816.4 700.9,816.4 701.5,816.4 702.1,816.4 702.7,816.5 703.3,816.6 703.9,816.5 704.5,816.5 705.1,816.6 705.7,816.6 706.3,816.1 706.9,816.7 707.5,814.8 708.1,816.7 708.7,816.7 709.3,811.4 709.9,814.8 710.5,810.2 710.8,813.8 711.1,815.6 711.7,805.5 712.3,804.2 712.9,807.1 713.5,804.2 714.2,804.2 714.7,810.6 715.3,808.4 715.8,815.7 716.5,815.7 717.1,813.5 717.7,815.7 718.3,813.4 718.9,815.7 719.5,813.7 720.1,815.7 720.7,815.7 721.5,815.7 721.9,816.3 722.5,809.5 723.1,811.0 723.4,809.0 723.7,809.0 724.3,814.0 724.9,813.4 725.3,816.3 726.1,816.3 726.7,813.7 727.3,816.3 727.9,813.8 728.5,816.3 729.1,816.3 729.7,816.3 730.3,816.3 730.9,816.3 731.5,816.3 732.1,816.3 732.7,816.3 733.3,816.3 733.9,816.3 734.5,816.3 735.1,816.3 735.7,816.3 736.3,814.9 736.7,816.3 737.5,816.3 738.1,811.2 738.7,814.9 739.3,810.1 739.9,813.5 740.6,810.0 741.1,810.0 741.7,814.3 742.5,815.7 742.9,814.4 743.5,815.7 744.1,813.1 744.7,814.9 745.3,813.9 745.9,814.7 746.3,813.8 747.1,813.8 747.7,815.3 748.3,810.9 748.9,815.3 749.1,815.3 749.5,813.0 750.1,813.4 750.7,810.4 751.3,813.2 751.9,806.1 752.4,806.1 753.1,812.7 753.7,807.9 754.3,815.7 754.7,815.7 754.9,812.5 755.5,815.8 756.1,814.2 756.7,816.3 757.3,811.4 757.9,816.2 758.5,815.7 759.1,816.3 759.7,815.9 760.3,816.3 760.9,815.7 761.5,816.3 762.1,816.2 762.7,815.1 763.4,814.8 763.9,815.5 764.5,815.3 765.1,816.3 765.4,816.3 765.7,815.8 766.3,816.3 766.9,816.0 767.5,816.3 768.1,816.0 768.7,816.3 769.3,816.3 769.9,816.3 770.5,816.3 771.1,816.3 771.7,816.3 772.3,816.3 772.9,816.3 773.5,816.3 774.1,816.3 774.7,816.3 775.3,816.3 775.9,816.3 776.5,815.4 777.1,816.3 777.7,815.8 778.3,816.3 778.7,816.3 779.5,814.8 780.1,815.9 780.7,814.0 781.4,813.8 781.9,815.1 782.5,814.6 783.1,816.3 783.7,816.3 784.3,815.4 784.9,816.3 785.5,815.3 786.1,816.3 786.7,816.4 787.3,816.4 787.9,816.4 788.5,816.4 789.1,816.4 789.7,816.4 790.3,816.4 790.9,816.4 791.5,816.4 792.1,816.5 792.7,816.5 793.3,816.5 793.9,816.5 794.5,816.5 795.1,816.5 795.7,816.5 796.3,816.5 796.9,816.6 797.5,816.6 798.1,816.6 798.7,816.6 799.3,816.6 799.9,816.6 800.5,816.6 801.1,816.6 801.7,816.6 802.3,816.7 802.9,816.7 803.5,816.7 804.1,816.6 804.7,816.6 805.3,816.6 805.9,816.5 806.5,816.5 807.1,816.5 807.7,816.4 808.3,816.4 808.9,816.3 809.5,816.3 810.1,816.3 810.7,816.2 811.3,816.2 811.9,816.2 812.5,816.1 813.1,816.1 813.7,816.0 814.3,816.0 814.9,816.0 815.5,816.2 816.1,815.7 816.7,816.0 817.3,815.7 817.9,816.1 818.5,815.7 818.7,815.7 819.1,816.4 819.7,816.1 820.0,816.7 820.3,816.7 820.9,816.2 821.5,816.6 822.1,815.9 822.7,816.3 823.3,815.7 823.8,815.7 824.5,816.2 825.1,815.7 825.7,816.5 826.3,816.2 826.9,817.2 827.6,816.7 828.1,816.2 828.7,816.9 829.3,816.7 829.9,817.6 830.5,816.6 831.1,817.5 831.4,817.6 831.7,817.3 832.3,816.4 832.9,815.0 833.3,814.8 834.1,815.7 834.7,815.3 835.3,816.7 836.0,816.7 836.5,815.9 837.1,815.3 837.7,813.8 838.3,813.8 838.9,814.3 839.5,812.6 840.2,810.9 840.7,814.8 841.3,814.0 841.9,816.1 842.5,817.6 843.1,814.2 843.7,813.7 844.3,810.3 844.8,809.0 845.5,806.6 846.1,803.8 846.7,801.4 847.3,805.1 847.9,807.4 848.6,810.9 849.1,813.5 849.7,809.2 850.5,813.8 850.9,814.3 851.5,812.7 852.1,815.8 852.8,816.7 853.3,805.7 853.9,806.9 854.3,797.6 855.1,791.2 855.5,788.0 855.7,792.7 856.3,791.8 857.0,799.5 857.5,802.5 858.1,791.8 858.5,791.8 859.3,803.3 860.0,807.1 860.5,801.6 861.1,803.3 861.7,795.7 862.0,795.7 862.3,801.7 862.9,796.8 863.5,804.8 863.9,803.3 864.1,803.3 864.7,806.5 865.3,805.0 865.8,807.1 866.5,807.1 867.1,805.4 867.7,805.2 868.3,806.8 868.9,806.1 869.5,807.5 870.0,808.1 870.7,805.3 871.3,806.4 871.9,803.4 872.3,803.3 872.5,805.8 873.1,801.9 873.7,807.1 874.2,807.1 874.9,799.0 875.7,795.7 876.1,792.6 876.7,779.8 877.2,774.7 877.9,782.8 878.5,781.2 879.1,792.2 879.5,791.8 880.3,782.1 880.9,786.4 881.4,778.5 882.1,778.0 882.7,789.9 883.3,789.9 883.9,782.6 884.5,784.9 884.8,778.5 885.1,772.4 885.7,778.5 886.3,766.9 886.7,767.1 887.5,760.7 888.3,749.9 888.7,742.1 889.4,734.6 890.2,688.5 891.3,740.4 891.7,747.0 892.3,742.5 892.8,751.8 893.5,756.9 894.1,752.0 894.8,759.4 895.3,772.3 895.9,772.5 896.7,789.9 897.1,790.4 897.7,788.6 898.3,791.6 898.6,791.8 898.9,786.1 899.5,785.0 900.1,776.6 900.5,772.8 901.3,779.0 901.9,777.0 902.4,778.5 903.1,790.7 903.7,795.1 904.3,803.3 904.9,795.5 905.5,785.3 906.2,778.5 906.7,780.1 907.3,776.6 908.1,776.6 908.5,783.3 909.1,782.0 909.7,790.9 910.0,793.7 910.3,790.6 910.9,785.8 911.5,779.1 911.9,776.6 912.7,779.2 913.3,773.8 913.8,772.8 914.5,778.7 915.1,777.0 915.7,782.3 916.3,788.0 916.9,785.6 917.6,791.8 918.1,791.8 918.7,786.5 919.3,791.4 919.5,788.0 919.9,784.7 920.5,791.8 921.1,788.5 921.5,793.7 923.4,759.4 924.1,754.8 924.9,744.2 926.4,782.3 927.1,780.4 927.7,789.9 927.9,789.9 928.3,788.2 929.1,795.7 929.5,795.7 930.0,789.9 930.7,782.4 931.3,785.9 931.5,782.3 931.9,781.2 932.5,795.7 933.1,795.7 933.7,786.6 934.3,788.3 935.0,778.5 935.5,778.0 936.1,782.6 936.9,776.6 937.3,778.5 937.9,788.1 938.5,787.0 938.8,791.8 939.1,789.6 939.7,780.1 940.3,784.7 940.7,778.5 941.5,778.5 942.1,785.5 942.6,786.1 943.3,784.1 943.9,791.8 944.5,791.8 945.1,791.0 945.7,794.8 946.0,795.7 947.5,763.2 949.1,709.8 949.3,711.2 949.9,728.3 950.6,736.5 951.1,725.9 951.7,726.5 952.1,717.5 952.9,709.8 953.5,710.1 954.0,702.2 954.7,711.5 955.3,722.0 955.9,728.9 956.5,731.4 957.1,744.8 957.5,749.9 957.7,744.7 958.3,744.7 959.0,740.4 960.1,683.1 961.5,628.8 961.9,634.0 962.5,646.3 962.8,645.0 963.1,645.0 963.7,655.5 964.3,656.4 965.5,702.2 966.6,740.4 968.1,774.7 968.5,766.5 969.1,764.6 969.7,747.7 970.0,748.0 970.3,754.8 970.9,756.3 971.6,767.1 972.1,767.5 972.7,756.8 973.5,753.7 973.9,760.3 974.5,757.5 975.1,767.1 975.4,769.0 975.7,761.6 976.3,763.8 976.9,751.8 977.5,749.5 978.1,752.6 978.8,744.2 980.7,776.6 981.1,768.4 981.7,770.8 982.3,757.7 982.6,759.4 982.9,764.8 983.5,760.9 984.1,774.7 984.5,774.7 985.3,763.7 985.9,762.7 986.4,755.6 987.1,755.0 987.7,756.2 988.4,753.7 988.9,755.6 989.5,762.9 990.3,763.2 990.7,761.4 991.3,760.1 991.9,756.5 992.2,757.5 992.5,757.5 993.1,747.9 993.7,752.1 994.1,746.1 994.9,742.0 995.5,742.7 996.0,736.5 997.5,769.0 997.9,769.1 998.5,776.3 999.0,780.4 999.7,772.1 1000.3,769.1 1000.9,763.2 1001.5,757.0 1002.1,755.8 1002.5,746.1 1002.7,747.7 1003.3,755.1 1003.9,752.7 1004.4,759.4 1005.1,771.7 1005.9,778.5 1006.3,768.3 1006.9,768.9 1007.5,756.2 1007.8,751.8 1008.1,758.5 1008.7,759.4 1009.3,776.6 1009.7,778.5 1010.5,777.8 1011.1,784.0 1011.6,786.1 1012.3,771.2 1012.9,772.2 1013.5,759.4 1014.1,759.8 1014.7,775.5 1015.4,778.5 1015.9,768.7 1016.5,767.9 1017.1,755.6 1017.3,755.6 1017.7,762.8 1018.3,759.0 1018.9,767.2 1019.2,767.1 1019.5,760.7 1020.1,764.7 1020.7,752.8 1021.2,751.8 1021.9,767.1 1022.7,776.6 1024.6,744.2 1024.9,745.4 1025.5,751.8 1026.1,750.2 1026.5,751.8 1028.4,788.0 1030.3,755.6 1030.9,758.6 1031.5,754.2 1032.2,759.4 1032.7,762.4 1033.3,758.9 1033.9,762.8 1034.1,763.2 1034.5,759.7 1035.1,756.4 1035.7,750.7 1036.0,748.0 1036.3,750.4 1036.9,753.2 1037.5,758.0 1037.9,759.4 1038.7,755.5 1039.3,759.4 1039.8,755.6 1040.5,763.6 1041.1,775.6 1041.8,786.1 1043.7,705.1 1045.6,767.1 1045.9,766.0 1046.5,778.1 1047.1,778.5 1047.7,766.6 1048.3,767.6 1048.6,759.4 1048.9,758.3 1049.5,759.5 1050.1,751.8 1050.5,751.8 1052.4,786.1 1054.3,751.8 1056.2,702.2 1056.7,707.8 1057.3,702.2 1057.9,709.3 1058.2,704.1 1058.5,702.2 1059.1,704.9 1059.7,700.9 1060.4,699.4 1060.9,709.4 1061.5,712.6 1062.1,725.0 1062.3,728.9 1062.7,725.4 1063.3,725.1 1063.9,720.0 1064.3,721.3 1064.5,720.7 1065.1,705.7 1065.8,699.4 1066.3,710.2 1066.9,708.2 1067.3,717.5 1068.1,711.7 1068.7,699.4 1069.3,698.6 1069.6,691.7 1069.9,697.5 1070.5,712.6 1071.1,721.3 1071.7,712.2 1072.3,711.4 1072.6,705.1 1072.9,705.1 1073.5,723.5 1074.2,730.8 1074.7,732.3 1075.3,747.6 1075.7,748.0 1076.5,751.8" fill="none" stroke="#4285F4" stroke-width="2.8" stroke-linejoin="round" stroke-linecap="butt" clip-path="url(#cp3)"/>
<polyline points="526.3,793.7 527.2,753.7 527.5,764.7 528.1,753.7 528.8,769.0 529.3,776.7 529.9,754.0 530.3,763.2 531.1,789.0 531.4,789.0 533.0,740.4 533.5,728.9 534.1,722.1 534.5,709.8 535.3,719.8 536.0,728.9 536.5,740.4 537.1,736.3 537.5,751.8 538.3,749.2 539.1,725.1 539.5,715.0 540.1,719.7 540.6,706.0 542.1,755.6 542.9,701.3 544.0,763.2 545.2,683.1 546.1,473.4 546.7,473.4 547.3,481.3 547.9,473.4 548.2,473.4 549.7,694.6 550.5,725.1 550.9,719.4 551.7,695.5 553.2,736.5 555.5,774.7 557.4,697.4 558.1,701.5 558.9,706.0 560.8,751.8 561.1,754.1 561.7,748.3 562.3,763.7 562.7,767.1 564.6,725.1 566.5,759.4 567.1,771.5 567.7,788.0 568.3,778.8 568.9,766.9 569.2,765.1 569.5,772.5 570.1,759.4 570.7,759.4 571.3,767.7 571.9,759.4 572.3,770.9 572.5,778.5 573.1,775.3 573.7,783.8 574.2,788.0 575.7,712.7 577.2,763.2 577.9,737.0 578.4,736.5 580.3,788.0 580.9,784.3 581.5,763.2 581.8,764.2 582.1,774.4 582.7,764.2 583.3,781.0 583.7,778.5 584.5,777.3 585.1,795.3 585.6,801.4 586.3,781.1 586.9,792.4 587.1,778.5 587.5,774.8 588.1,775.4 588.7,763.2 589.3,771.2 589.9,783.8 590.2,782.3 590.5,781.8 591.1,793.7 591.7,801.4 592.3,787.1 592.9,789.5 593.6,782.3 594.1,767.4 594.7,775.2 595.1,763.2 595.9,766.8 596.5,788.0 597.0,788.0 599.0,738.4 599.5,723.4 600.1,728.7 600.9,711.7 601.3,711.7 602.0,725.1 602.5,723.1 603.1,699.4 604.7,742.3 606.6,690.8 608.1,748.0 608.5,737.3 609.1,742.9 609.6,723.2 610.3,728.1 610.9,748.0 611.2,744.2 612.7,706.0 614.6,769.0 616.1,736.5 616.9,734.2 617.6,751.8 619.2,708.9 620.7,757.5 622.6,725.1 622.9,727.5 623.5,710.1 624.1,722.8 624.5,713.7 625.3,689.7 626.0,683.1 627.6,757.5 629.1,669.8 630.6,717.5 631.8,677.4 633.3,759.4 634.8,717.5 635.5,725.7 636.1,720.9 636.7,728.9 637.3,743.0 637.9,735.8 638.2,751.8 638.5,755.1 639.1,753.5 639.7,770.7 640.1,776.6 642.1,728.9 642.7,728.9 643.3,747.8 643.6,744.2 645.1,776.6 646.6,728.9 646.9,725.0 647.5,744.2 648.2,744.2 649.3,702.2 650.6,473.4 651.1,473.4 651.7,478.1 652.3,473.4 653.9,606.9 655.0,652.6 655.3,648.7 655.9,679.9 656.5,683.1 657.7,734.6 658.3,709.3 658.8,706.0 659.5,721.9 660.1,717.3 660.4,732.7 660.7,730.7 661.5,709.8 663.0,767.1 663.7,750.6 664.3,755.6 664.6,744.2 664.9,736.1 665.5,757.7 666.1,755.6 666.7,748.0 667.3,757.5 667.6,748.0 669.5,780.4 670.0,778.5 670.3,765.9 670.9,765.4 671.1,753.7 671.5,753.7 672.1,764.2 672.7,763.2 673.3,770.6 673.9,786.2 674.2,791.8 674.5,780.2 675.1,785.6 675.7,777.0 676.1,778.5 676.9,778.5 677.5,763.2 678.0,763.2 679.9,725.1 681.4,767.1 683.3,732.7 684.1,748.9 684.9,751.8 685.3,742.4 685.9,751.2 686.4,738.4 687.9,788.0 690.2,734.6 690.7,734.0 691.3,740.6 691.7,732.7 693.3,786.1 694.8,748.0 695.5,746.2 696.1,759.4 696.3,759.4 697.5,705.1 698.6,759.4 700.1,721.3 701.7,759.4 702.1,741.2 702.7,745.5 703.2,732.7 703.9,732.7 704.3,744.2 705.5,791.8 705.7,791.8 706.3,782.8 706.9,791.8 707.4,782.3 708.1,766.1 708.9,770.9 709.3,786.2 709.9,778.5 710.4,797.6 711.1,789.6 711.7,775.3 712.3,774.7 712.9,775.9 713.5,766.6 714.2,761.3 716.5,793.7 717.1,786.4 717.7,771.4 718.4,769.0 718.9,781.5 719.5,772.1 720.1,784.4 720.3,774.7 720.7,770.2 721.3,789.8 721.9,777.8 722.3,789.9 722.5,791.1 723.1,788.0 723.7,797.1 724.2,799.5 725.3,744.2 726.1,754.9 726.8,774.7 728.7,715.6 730.3,786.1 731.8,751.8 733.3,696.1 735.2,789.9 737.1,736.5 737.5,733.5 738.3,706.0 740.6,778.5 742.5,744.2 742.9,738.4 743.5,767.9 744.0,763.2 745.9,720.3 747.8,776.6 748.3,760.8 748.9,767.9 749.3,753.7 750.1,758.7 750.7,778.8 751.2,782.3 751.9,768.5 752.5,776.9 753.1,759.4 753.7,758.7 754.3,782.3 754.7,786.1 757.0,728.9 758.5,774.7 759.1,772.1 759.7,789.9 760.4,795.7 760.9,779.2 761.5,787.9 762.3,767.1 762.7,767.1 763.3,785.6 763.9,777.1 764.2,789.9 764.5,789.9 765.1,770.3 765.7,769.0 766.3,776.8 766.9,763.2 767.6,763.2 768.1,774.6 768.7,764.7 769.3,782.5 769.9,789.9 771.8,751.8 772.3,748.4 772.9,747.9 773.4,740.4 775.3,786.1 775.9,773.7 776.5,777.2 777.2,763.2 777.7,751.0 778.3,763.3 779.1,750.8 781.4,793.7 781.9,781.9 782.5,782.5 783.1,766.8 783.7,770.9 784.3,775.9 784.9,770.4 785.6,776.6 787.1,703.2 788.6,767.1 789.1,785.3 789.7,777.3 790.1,795.7 791.3,743.2 793.2,795.7 795.1,763.2 795.7,765.0 796.3,753.7 797.0,748.0 798.5,793.7 799.3,792.6 799.9,764.4 800.4,765.1 802.3,797.6 802.9,797.6 803.5,770.6 804.3,770.9 804.7,783.7 805.3,775.2 805.9,795.2 806.5,797.6 808.5,752.7 808.9,758.7 809.5,777.6 810.1,767.5 810.4,778.5 810.7,785.1 811.3,765.1 811.9,773.9 812.3,765.1 814.2,797.6 814.9,783.9 815.5,791.8 816.1,770.9 816.5,770.9 816.7,782.8 817.3,782.0 817.9,794.8 818.5,788.4 818.7,801.4 819.1,797.6 819.7,780.7 820.0,786.1 820.3,791.5 820.9,784.5 821.5,793.7 821.9,793.7 822.7,772.3 823.4,769.0 823.9,778.9 824.5,773.2 825.0,786.1 825.7,782.7 826.5,761.3 826.9,765.8 827.5,778.8 828.1,774.2 828.4,782.3 828.7,786.1 829.3,784.6 829.9,794.3 830.3,797.6 831.1,782.3 831.8,778.5 832.3,780.6 832.9,771.5 833.5,775.0 833.7,766.1 836.0,801.4 838.3,747.0 840.2,786.1 840.7,775.1 841.3,778.5 841.9,762.8 842.1,769.0 842.5,777.0 843.1,764.5 843.6,778.5 844.8,705.1 846.7,740.4 848.6,789.9 850.5,757.5 850.9,757.9 851.5,741.3 852.1,748.5 852.4,739.4 854.3,776.6 855.1,759.7 855.7,763.6 856.2,751.8 856.9,748.4 857.5,767.1 857.8,767.1 858.9,693.6 860.4,767.1 862.3,732.7 862.9,728.9 863.5,739.2 864.1,729.8 864.6,728.9 866.5,774.7 867.1,767.9 867.7,754.3 868.4,751.8 868.9,754.5 869.5,728.9 870.1,741.8 870.3,728.9 872.3,778.5 872.5,772.3 873.1,768.4 873.7,756.3 874.2,755.6 874.9,764.5 875.5,755.8 876.1,761.3 876.7,765.9 877.3,749.9 878.0,749.9 878.5,761.3 879.1,758.0 879.5,770.9 881.0,729.9 881.5,742.7 882.1,733.5 882.7,756.1 882.9,748.0 883.3,750.3 883.9,769.6 884.5,774.7 886.0,727.0 886.3,729.7 886.9,743.4 887.5,740.4 888.1,736.5 888.7,745.9 889.0,736.5 889.3,729.5 889.9,749.9 890.5,748.4 890.9,761.3 891.7,756.8 892.3,749.1 892.8,749.9 893.5,748.5 894.0,728.0 894.7,731.1 895.3,744.7 895.9,736.5 896.5,733.1 897.1,759.1 897.8,759.4 898.3,756.0 898.9,767.1 899.3,767.1 900.9,717.5 902.8,772.8 903.1,759.9 903.7,764.7 904.3,748.0 905.8,713.7 907.3,769.0 908.9,736.5 909.1,728.5 909.7,736.5 910.4,725.1 911.9,690.8 912.7,692.7 913.4,694.6 915.0,751.8 915.7,759.0 916.5,767.1 916.9,756.4 917.5,763.9 918.1,745.8 918.4,751.8 918.7,758.1 919.3,746.1 919.9,757.0 920.3,746.1 921.5,791.8 922.6,713.7 924.5,778.5 925.3,754.8 926.0,751.8 926.5,760.5 927.1,754.6 927.6,767.1 928.3,762.9 929.1,746.1 929.5,746.9 930.0,748.0 930.7,771.5 931.3,768.1 931.5,778.5 931.9,776.6 932.5,765.6 933.1,776.6 933.4,763.2 933.7,758.9 934.3,776.6 934.9,766.0 935.3,776.6 936.1,775.4 936.7,751.0 937.2,751.8 937.9,758.1 938.5,745.0 939.2,744.2 939.7,752.6 940.3,741.9 941.1,740.4 941.5,745.7 942.1,740.4 942.7,744.2 943.0,744.2 943.3,748.4 943.9,760.4 944.5,770.9 946.4,723.2 948.3,759.4 948.7,751.3 949.3,759.4 949.9,744.8 950.2,751.8 951.7,702.2 953.3,664.1 953.5,672.9 954.1,674.8 954.8,694.6 955.3,704.6 955.9,706.0 956.3,725.1 957.5,683.1 958.6,576.3 960.1,702.2 960.7,709.0 961.5,693.6 962.4,740.4 963.9,666.9 964.3,666.9 964.9,684.7 965.5,688.9 967.0,620.2 968.1,683.1 968.5,687.2 968.9,712.7 970.8,666.0 971.5,680.7 972.1,680.4 972.3,683.1 972.7,694.7 973.3,683.1 973.9,693.6 975.0,742.3 976.5,688.9 976.9,695.4 977.7,686.0 978.1,683.1 978.7,707.4 979.2,707.9 980.3,740.4 981.5,683.1 982.6,620.8 984.2,721.3 985.3,757.5 987.2,670.7 987.7,670.7 988.3,691.7 988.9,682.2 989.5,693.6 990.1,689.4 990.6,673.6 991.3,659.0 991.8,647.9 993.3,698.4 993.7,704.8 994.3,693.3 994.8,706.0 995.5,708.5 996.1,687.0 996.7,687.0 998.3,736.5 998.5,741.0 999.1,743.3 999.4,759.4 1001.3,704.1 1002.8,740.4 1003.3,740.4 1003.9,730.1 1004.4,732.7 1006.7,697.4 1006.9,705.5 1007.5,711.1 1008.1,725.4 1008.6,728.9 1010.1,763.2 1010.5,750.9 1011.1,753.4 1011.6,740.4 1012.3,740.4 1012.9,750.2 1013.5,740.4 1014.1,742.9 1014.7,760.6 1015.1,759.4 1015.3,753.6 1015.9,772.0 1016.6,782.3 1017.1,763.2 1017.7,760.0 1018.1,751.8 1018.9,728.3 1019.6,724.1 1020.1,735.0 1020.7,712.4 1021.3,732.4 1021.5,723.2 1022.7,755.6 1023.4,646.0 1024.6,689.8 1025.9,595.0 1027.3,702.2 1028.0,748.0 1029.5,708.9 1031.1,587.4 1031.5,589.8 1032.1,603.3 1032.7,596.6 1033.0,598.3 1034.1,675.5 1034.9,759.4 1035.7,751.8 1036.4,736.5 1036.9,728.1 1037.5,751.1 1037.9,744.2 1038.7,727.2 1039.1,726.0 1039.9,748.0 1040.2,751.8 1041.4,679.3 1042.9,728.9 1043.5,725.8 1044.1,748.9 1044.4,748.0 1044.7,743.7 1045.3,761.0 1045.9,770.9 1047.1,722.2 1047.7,718.5 1048.3,723.2 1048.6,712.7 1050.1,751.8 1050.7,754.4 1051.3,766.2 1051.7,770.9 1053.6,689.8 1055.1,730.8 1056.6,769.0 1058.2,703.2 1058.5,701.3 1059.1,721.2 1059.7,725.1 1060.3,731.4 1060.9,754.5 1061.2,751.8 1062.9,654.5 1064.3,725.1 1065.8,757.5 1066.9,708.9 1067.5,711.3 1068.1,743.3 1068.5,740.4 1068.7,739.2 1069.3,757.5 1070.0,764.2 1071.5,694.6 1073.0,732.7 1073.5,722.4 1074.1,731.7 1074.6,719.4 1075.7,757.5 1076.5,748.0" fill="none" stroke="#DB4437" stroke-width="2.8" stroke-linejoin="round" stroke-linecap="butt" clip-path="url(#cp3)"/>
<rect x="525.1" y="817.60" width="552.8" height="1.4" fill="#333333"/>
<text transform="translate(529.8,826.0) rotate(-90)" font-size="14.6" fill="#000" stroke="#000" stroke-width="0.3" text-anchor="end" >2022-10-21</text>
<text transform="translate(545.2,826.0) rotate(-90)" font-size="14.6" fill="#000" stroke="#000" stroke-width="0.3" text-anchor="end" >2022-11-08</text>
<text transform="translate(560.6,826.0) rotate(-90)" font-size="14.6" fill="#000" stroke="#000" stroke-width="0.3" text-anchor="end" >2022-11-26</text>
<text transform="translate(576.0,826.0) rotate(-90)" font-size="14.6" fill="#000" stroke="#000" stroke-width="0.3" text-anchor="end" >2022-12-14</text>
<text transform="translate(591.4,826.0) rotate(-90)" font-size="14.6" fill="#000" stroke="#000" stroke-width="0.3" text-anchor="end" >2023-01-01</text>
<text transform="translate(606.7,826.0) rotate(-90)" font-size="14.6" fill="#000" stroke="#000" stroke-width="0.3" text-anchor="end" >2023-01-19</text>
<text transform="translate(622.1,826.0) rotate(-90)" font-size="14.6" fill="#000" stroke="#000" stroke-width="0.3" text-anchor="end" >2023-02-06</text>
<text transform="translate(637.5,826.0) rotate(-90)" font-size="14.6" fill="#000" stroke="#000" stroke-width="0.3" text-anchor="end" >2023-02-24</text>
<text transform="translate(652.9,826.0) rotate(-90)" font-size="14.6" fill="#000" stroke="#000" stroke-width="0.3" text-anchor="end" >2023-03-14</text>
<text transform="translate(668.3,826.0) rotate(-90)" font-size="14.6" fill="#000" stroke="#000" stroke-width="0.3" text-anchor="end" >2023-04-01</text>
<text transform="translate(683.7,826.0) rotate(-90)" font-size="14.6" fill="#000" stroke="#000" stroke-width="0.3" text-anchor="end" >2023-04-19</text>
<text transform="translate(699.1,826.0) rotate(-90)" font-size="14.6" fill="#000" stroke="#000" stroke-width="0.3" text-anchor="end" >2023-05-07</text>
<text transform="translate(714.5,826.0) rotate(-90)" font-size="14.6" fill="#000" stroke="#000" stroke-width="0.3" text-anchor="end" >2023-05-25</text>
<text transform="translate(729.8,826.0) rotate(-90)" font-size="14.6" fill="#000" stroke="#000" stroke-width="0.3" text-anchor="end" >2023-06-12</text>
<text transform="translate(745.2,826.0) rotate(-90)" font-size="14.6" fill="#000" stroke="#000" stroke-width="0.3" text-anchor="end" >2023-06-30</text>
<text transform="translate(760.6,826.0) rotate(-90)" font-size="14.6" fill="#000" stroke="#000" stroke-width="0.3" text-anchor="end" >2023-07-18</text>
<text transform="translate(776.0,826.0) rotate(-90)" font-size="14.6" fill="#000" stroke="#000" stroke-width="0.3" text-anchor="end" >2023-08-05</text>
<text transform="translate(791.4,826.0) rotate(-90)" font-size="14.6" fill="#000" stroke="#000" stroke-width="0.3" text-anchor="end" >2023-08-23</text>
<text transform="translate(806.8,826.0) rotate(-90)" font-size="14.6" fill="#000" stroke="#000" stroke-width="0.3" text-anchor="end" >2023-09-10</text>
<text transform="translate(822.2,826.0) rotate(-90)" font-size="14.6" fill="#000" stroke="#000" stroke-width="0.3" text-anchor="end" >2023-09-28</text>
<text transform="translate(837.6,826.0) rotate(-90)" font-size="14.6" fill="#000" stroke="#000" stroke-width="0.3" text-anchor="end" >2023-10-16</text>
<text transform="translate(853.0,826.0) rotate(-90)" font-size="14.6" fill="#000" stroke="#000" stroke-width="0.3" text-anchor="end" >2023-11-03</text>
<text transform="translate(868.3,826.0) rotate(-90)" font-size="14.6" fill="#000" stroke="#000" stroke-width="0.3" text-anchor="end" >2023-11-21</text>
<text transform="translate(883.7,826.0) rotate(-90)" font-size="14.6" fill="#000" stroke="#000" stroke-width="0.3" text-anchor="end" >2023-12-09</text>
<text transform="translate(899.1,826.0) rotate(-90)" font-size="14.6" fill="#000" stroke="#000" stroke-width="0.3" text-anchor="end" >2023-12-27</text>
<text transform="translate(914.5,826.0) rotate(-90)" font-size="14.6" fill="#000" stroke="#000" stroke-width="0.3" text-anchor="end" >2024-01-14</text>
<text transform="translate(929.9,826.0) rotate(-90)" font-size="14.6" fill="#000" stroke="#000" stroke-width="0.3" text-anchor="end" >2024-02-01</text>
<text transform="translate(945.3,826.0) rotate(-90)" font-size="14.6" fill="#000" stroke="#000" stroke-width="0.3" text-anchor="end" >2024-02-19</text>
<text transform="translate(960.7,826.0) rotate(-90)" font-size="14.6" fill="#000" stroke="#000" stroke-width="0.3" text-anchor="end" >2024-03-08</text>
<text transform="translate(976.1,826.0) rotate(-90)" font-size="14.6" fill="#000" stroke="#000" stroke-width="0.3" text-anchor="end" >2024-03-26</text>
<text transform="translate(991.4,826.0) rotate(-90)" font-size="14.6" fill="#000" stroke="#000" stroke-width="0.3" text-anchor="end" >2024-04-13</text>
<text transform="translate(1006.8,826.0) rotate(-90)" font-size="14.6" fill="#000" stroke="#000" stroke-width="0.3" text-anchor="end" >2024-05-01</text>
<text transform="translate(1022.2,826.0) rotate(-90)" font-size="14.6" fill="#000" stroke="#000" stroke-width="0.3" text-anchor="end" >2024-05-19</text>
<text transform="translate(1037.6,826.0) rotate(-90)" font-size="14.6" fill="#000" stroke="#000" stroke-width="0.3" text-anchor="end" >2024-06-06</text>
<text transform="translate(1053.0,826.0) rotate(-90)" font-size="14.6" fill="#000" stroke="#000" stroke-width="0.3" text-anchor="end" >2024-06-24</text>
<text transform="translate(1068.4,826.0) rotate(-90)" font-size="14.6" fill="#000" stroke="#000" stroke-width="0.3" text-anchor="end" >2024-07-12</text>
<rect x="1030.6" y="480.5" width="52" height="51.5" rx="11.5" fill="#fff" filter="url(#sh)"/>
<g transform="translate(1043.3,493.0) scale(1.12)" fill="#404040"><path d="M17.65 6.35A7.958 7.958 0 0 0 12 4c-4.42 0-7.99 3.58-7.99 8s3.57 8 7.99 8c3.73 0 6.84-2.55 7.73-6h-2.08A5.99 5.99 0 0 1 12 18c-3.31 0-6-2.69-6-6s2.690-6 6-6c1.660 0 3.140.69 4.220 1.780L13 11h7V4l-2.350 2.350z"/></g>
</svg>
</body></html>
